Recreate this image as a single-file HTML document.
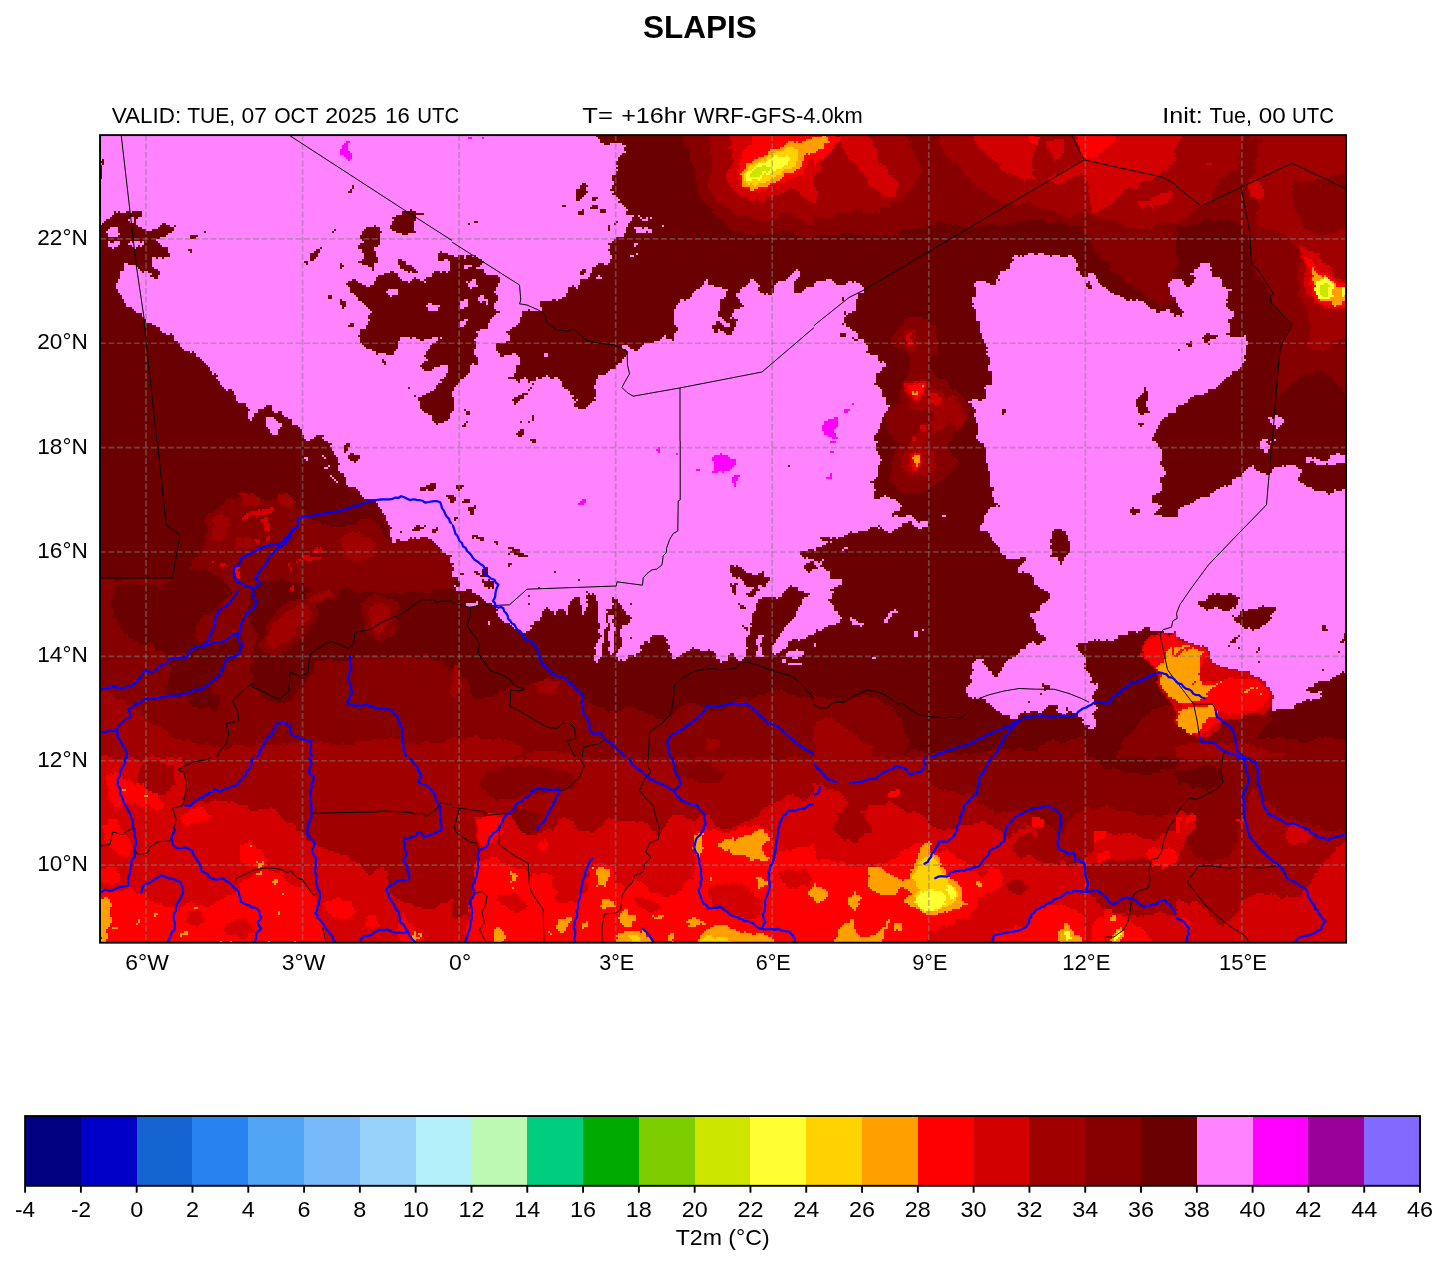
<!DOCTYPE html>
<html><head><meta charset="utf-8"><title>SLAPIS</title>
<style>
html,body{margin:0;padding:0;background:#fff;}
body{width:1448px;height:1264px;overflow:hidden;font-family:"Liberation Sans",sans-serif;}
svg{display:block;}
text{font-family:"Liberation Sans",sans-serif;fill:#000;}
.r{fill:none;stroke:#0000ff;stroke-width:2.2;stroke-linejoin:round;stroke-linecap:round;}
.b{fill:none;stroke:#000;stroke-width:1.0;stroke-linejoin:round;}
.g{stroke:#808080;stroke-opacity:0.5;stroke-width:1.7;stroke-dasharray:5.9 2.6;fill:none;}
</style></head><body>
<svg width="1448" height="1264" viewBox="0 0 1448 1264">
<rect width="1448" height="1264" fill="#fff"/>
<defs>
<clipPath id="cm"><rect x="100" y="135" width="1246.1" height="807.8"/></clipPath>
<clipPath id="c0"><rect x="90" y="125" width="362" height="316"/></clipPath>
<clipPath id="c1"><rect x="452" y="125" width="362" height="316"/></clipPath>
<clipPath id="c2"><rect x="814" y="125" width="362" height="316"/></clipPath>
<clipPath id="c3"><rect x="1176" y="125" width="272" height="316"/></clipPath>
<clipPath id="c4"><rect x="90" y="441" width="362" height="316"/></clipPath>
<clipPath id="c5"><rect x="452" y="441" width="362" height="316"/></clipPath>
<clipPath id="c6"><rect x="814" y="441" width="362" height="316"/></clipPath>
<clipPath id="c7"><rect x="1176" y="441" width="272" height="316"/></clipPath>
<clipPath id="c8"><rect x="90" y="757" width="362" height="316"/></clipPath>
<clipPath id="c9"><rect x="452" y="757" width="362" height="316"/></clipPath>
<clipPath id="c10"><rect x="814" y="757" width="362" height="316"/></clipPath>
<clipPath id="c11"><rect x="1176" y="757" width="272" height="316"/></clipPath>
<filter id="px" filterUnits="userSpaceOnUse" x="80" y="115" width="1290" height="850" color-interpolation-filters="sRGB">
<feTurbulence type="fractalNoise" baseFrequency="0.09" numOctaves="3" seed="7" result="n"/>
<feDisplacementMap in="SourceGraphic" in2="n" scale="9" xChannelSelector="R" yChannelSelector="G" result="d"/>
<feFlood x="80" y="115" width="1" height="1" flood-color="#000"/>
<feComposite width="2" height="2"/>
<feTile result="grid"/>
<feComposite in="d" in2="grid" operator="in" result="s"/>
<feOffset in="s" dx="1" dy="0" result="s1"/>
<feOffset in="s" dx="0" dy="1" result="s2"/>
<feOffset in="s" dx="1" dy="1" result="s3"/>
<feMerge><feMergeNode in="s"/><feMergeNode in="s1"/><feMergeNode in="s2"/><feMergeNode in="s3"/></feMerge>
</filter>
</defs>
<g clip-path="url(#cm)"><g filter="url(#px)" shape-rendering="crispEdges">
<g clip-path="url(#c0)">
<rect x="90" y="125" width="362" height="316" fill="#ff82ff"/>
<polygon fill="#6b0000" points="87.5,223.8 100,223.8 106.2,218 116.2,212 127.5,211.2 133.8,212.5 141.2,209.5 142,217 135.5,221.2 141.2,225.5 148,232 157.5,228.8 165,223 176.2,224.5 175,228.8 165,237 155.5,240 165,247.5 170.5,255 162.5,258.8 153.8,257 150,264 155.5,270.5 158.8,273 158,279 152,276.5 149.5,271.2 141.2,272 136.5,265.5 127.5,262 122,268.8 115,280.5 115.5,287.5 123,296.2 125.5,305.5 135,311.2 143,316 150,322 157,325 163,332.5 175,337.5 182,348.2 192.5,352.5 203,360.5 213,370.5 218,378 223,387.5 230,390 237.5,400 245.5,408 252.5,419 256.2,410 262.5,406.2 268.8,405 272.5,410 280,412.5 287.5,418.8 297.5,425 302.5,432.5 302.5,437.5 315,437.5 322.5,433 323.8,438.8 330,441 330,450 87.5,450"/>
<polygon fill="#ff82ff" points="105,230 115,227.5 120,232.5 112.5,236.2 105,235"/>
<polygon fill="#ff82ff" points="127.5,218.8 135,217.5 136.2,221.2 130,223"/>
<polygon fill="#ff82ff" points="107.5,242.5 117.5,240.5 120,245 111.2,248"/>
<polygon fill="#ff82ff" points="127.5,242.5 140,240.5 143.8,245 132.5,248"/>
<polygon fill="#ff82ff" points="262.5,415 272.5,416.2 280,425 276.2,435 268.8,428.8 265,422.5"/>
<polygon fill="#6b0000" points="100,157.5 101.8,157.5 101.8,177.5 100,177.5"/>
<polygon fill="#6b0000" points="190,235 193.8,232.5 198,234.5 195,238 191.2,238"/>
<polygon fill="#6b0000" points="187.5,250 192.5,248.2 193.8,250.8 188.8,252.5"/>
<polygon fill="#6b0000" points="202,232 204,232 204,234 202,234"/>
<polygon fill="#ff00ff" points="340,148.8 343,143.8 345,140 347.5,140.5 347.5,147.5 350,150 350,160 346.2,160 343.8,156.2 340.5,153.8"/>
<polygon fill="#6b0000" points="392.5,216.2 402.5,212.5 408.8,207.5 415,211.2 423.8,213.8 417.5,217.5 413.8,223.8 412.5,232.5 405,235 393.8,231.2 390,223.8"/>
<polygon fill="#6b0000" points="361.2,232.5 367.5,227 377.5,227 382.5,230 377.5,236.2 380,242.5 375,250 377.5,260 373.8,270 367.5,265 358.8,261.2 362.5,252.5 357.5,245 362.5,238.8"/>
<polygon fill="#6b0000" points="342.5,281.2 355,280 365,287.5 372.5,285 375,275 387.5,272.5 397.5,275 402.5,280 412.5,277.5 422.5,282.5 427.5,275 440,272.5 445,265 437.5,260 436.2,252.5 450,252.5 455,260 455,407.5 445,420 437.5,425 431.2,420 427.5,412.5 420,407.5 417.5,397.5 425,392.5 435,390 440,382.5 445,375 450,365 440,362.5 432.5,370 422.5,368.8 425,360 422.5,352.5 430,345 437.5,337.5 430,335 422.5,340 412.5,337.5 402.5,335 396.2,345 393.8,353.8 377.5,353.8 375,347.5 363.8,348.8 361.2,340 357,332.5 365,327.5 368.8,320 372.5,310 365,305 357.5,297.5 350,292.5 345,286.2"/>
<polygon fill="#6b0000" points="396.2,261.2 402.5,260 412.5,266.2 418.8,270 415,273 405,270 398.8,266.2"/>
<polygon fill="#6b0000" points="308.8,253.8 315,250 322.5,246.2 321.2,251.2 316.2,256.2 313.8,261.2 310,260"/>
<polygon fill="#6b0000" points="336.2,297.5 345,300 343.8,308.8 340,306.2"/>
<polygon fill="#6b0000" points="327.5,292.5 331.2,293 333,297.5 329.5,297"/>
<polygon fill="#6b0000" points="346.2,325 351.2,321.2 353.8,327 347.5,327.5"/>
<polygon fill="#6b0000" points="348.8,190 353.8,186.2 354.5,190 350.5,192.5"/>
<polygon fill="#6b0000" points="329.2,192 331.5,192 331.5,194 329.2,194"/>
<polygon fill="#6b0000" points="331.8,230 335.5,230 335.5,232 331.8,232"/>
<polygon fill="#6b0000" points="340,263.8 343.8,263.8 343.8,268.8 340,268.8"/>
<polygon fill="#6b0000" points="381.2,361.2 386.2,361.2 386.2,365 381.2,365"/>
<polygon fill="#6b0000" points="305,261.2 308.8,260 307.5,263"/>
<polygon fill="#6b0000" points="420,365 423.8,363.8 422.5,368.8"/>
<polygon fill="#6b0000" points="411.2,396.2 415,394.5 414,398.8"/>
<polygon fill="#6b0000" points="406.2,386.2 408.8,386.2 408.8,388.2 406.2,388.2"/>
<polygon fill="#6b0000" points="411.2,380 413,380 413,382 411.2,382"/>
<polygon fill="#ff82ff" points="425,305 432.5,301.2 440,303.8 435,311.2 427.5,311.2"/>
<polygon fill="#ff82ff" points="385,290 397.5,287.5 400,295 390,297.5"/>
<polygon fill="#ff82ff" points="438.8,261.2 445,257.5 450,265 445,272.5 440,267.5"/>
</g>
<g clip-path="url(#c1)">
<rect x="452" y="125" width="362" height="316" fill="#ff82ff"/>
<polygon fill="#6b0000" points="595.8,122.5 595.8,135 602,142.5 612,142.5 624.5,142.5 624.5,152.5 614.5,155 615.8,170 612,175 615.8,185 608.2,190 615.8,200 624.5,205 624.5,212.5 632,217.5 628.2,225 624.5,232.5 617,237.5 608.2,242.5 607,250 612,257.5 608.2,265 602,260 595.8,265 589.5,270 588.2,277.5 582,280 577,287.5 568.2,287.5 562,297.5 552,300 540.8,302.5 539.5,311.2 532,310 522,311.2 517,320 510.8,327.5 505.8,332.5 509.5,338.8 498.2,342.5 497,350 504.5,355 514.5,352.5 519.5,360 514.5,372.5 508.2,377.5 517,382.5 524.5,377.5 532,380 527,390 519.5,393.8 512,398.8 514.5,402.5 524.5,396.2 529.5,387.5 537,377.5 547,375 557,377.5 562,387.5 572,392.5 577,400 574.5,405 579.5,408.8 588.2,405 594.5,400 594.5,387.5 597,375 607,372.5 614.5,367.5 624.5,357.5 627,351.2 622,345 629.5,347.5 638.2,350 644.5,342.5 652,340 659.5,337.5 664.5,335 674.5,340 674.5,325 673.2,311.2 679.5,302.5 689.5,297.5 694.5,290 702,285 707,278.8 714.5,285 722,287.5 727,290 720.8,300 717,307.5 719.5,315 727,320 729.5,325 725.8,325 717,321.2 712,325 717,335 719.5,330 729.5,335 734.5,327.5 737,320 732,315 734.5,310 742,305 737,295 744.5,285 752,280 757,285 767,292.5 772,295 777,280 787,277.5 797,270 799.5,275 792,285 790.8,291.2 802,292.5 807,287.5 817,285 817,122.5"/>
<polygon fill="#ff82ff" points="599.5,150 607,148.8 608.2,157.5 602,158.8"/>
<polygon fill="#ff82ff" points="598.2,170 607,169.5 605.8,176.2 599.5,177.5"/>
<polygon fill="#ff82ff" points="633.2,242.5 638.2,242.5 638.2,247 633.2,247"/>
<polygon fill="#ff82ff" points="629.5,253.8 634.5,253.8 634.5,256.2 629.5,256.2"/>
<polygon fill="#ff82ff" points="637,216.2 647,217.5 645.8,220 638.2,219.5"/>
<polygon fill="#ff82ff" points="632,226.2 642,227.5 652,230 650.8,233 637,231.2"/>
<polygon fill="#ff82ff" points="652,217.5 655,217.5 655,220 652,220"/>
<polygon fill="#ff82ff" points="660,223 663.2,223 663.2,225.8 660,225.8"/>
<polygon fill="#ff82ff" points="595.8,275 600.8,275 600.8,277.5 595.8,277.5"/>
<polygon fill="#ff82ff" points="753.2,303 757,303 757,308.8 753.2,308.8"/>
<polygon fill="#ff82ff" points="765.8,297.5 769.5,297.5 769.5,300 765.8,300"/>
<polygon fill="#ff82ff" points="543.2,352.5 546.5,352.5 546.5,355.5 543.2,355.5"/>
<polygon fill="#6b0000" points="449.5,255 459.5,257.5 467,255 474.5,256.2 482,261.2 477,267.5 484.5,272.5 492,275 499.5,275 498.2,282.5 492,290 495.8,297.5 492,305 499.5,312.5 489.5,320 484.5,330 475.8,332.5 474.5,342.5 470.8,350 475.8,355 480.8,360 473.2,363.8 467,371.2 462,377.5 457,386.2 449.5,387.5"/>
<polygon fill="#ff82ff" points="465.8,281.2 475.8,278.8 477,285 468.2,287"/>
<polygon fill="#ff82ff" points="457,300 467,297.5 469.5,305 459.5,307.5"/>
<polygon fill="#ff82ff" points="477,297.5 485.8,296.2 487,302.5 479.5,303.8"/>
<polygon fill="#ff82ff" points="457,320 467,317.5 464.5,325 458.2,326.2"/>
<polygon fill="#ff82ff" points="462,265 470.8,265 470.8,268.8 462,268.8"/>
<polygon fill="#6b0000" points="464.5,410 468.5,410 468.5,414 464.5,414"/>
<polygon fill="#6b0000" points="464,421.2 466.5,421.2 466.5,425 464,425"/>
<polygon fill="#6b0000" points="517,428.8 523.2,428.8 523.2,435 517,435"/>
<polygon fill="#6b0000" points="529.5,416.2 533.2,416.2 533.2,421.2 529.5,421.2"/>
<polygon fill="#6b0000" points="519.5,420 522,420 522,422.5 519.5,422.5"/>
<polygon fill="#6b0000" points="529.5,437.5 533.5,437.5 533.5,442.5 529.5,442.5"/>
<polygon fill="#6b0000" points="525.8,421.2 527.8,421.2 527.8,423.2 525.8,423.2"/>
<polygon fill="#6b0000" points="467,223.2 469,223.2 469,225.2 467,225.2"/>
<polygon fill="#6b0000" points="473.5,221.5 475.5,221.5 475.5,223.5 473.5,223.5"/>
<polygon fill="#6b0000" points="574.5,191.2 582,183.8 588.2,182.5 587,192.5 580.8,200 574.5,200"/>
<polygon fill="#6b0000" points="563.2,203 567,203 567,205 563.2,205"/>
<polygon fill="#6b0000" points="575.8,211.2 580.8,209.5 582,213 577,215"/>
<polygon fill="#6b0000" points="589.5,205 594.5,205 594.5,210 589.5,210"/>
<polygon fill="#6b0000" points="599.5,208.8 604.5,208.8 604.5,213.8 599.5,213.8"/>
<polygon fill="#6b0000" points="592,196.2 595.8,196.2 595.8,199.5 592,199.5"/>
<polygon fill="#6b0000" points="607,226.2 610,226.2 610,229.5 607,229.5"/>
<polygon fill="#6b0000" points="614.5,221.2 617,221.2 617,225 614.5,225"/>
<polygon fill="#6b0000" points="579.5,268.8 583.2,268.8 583.2,275 579.5,275"/>
<polygon fill="#6b0000" points="498.2,348.8 505.8,350 508.2,355 500.8,356.2 496.5,353"/>
<polygon fill="#ff00ff" points="467,135.5 471,135.5 471,137.5 467,137.5"/>
<polygon fill="#ff00ff" points="479.5,138 482,138 482,140 479.5,140"/>
<polygon fill="#870000" points="680.8,122.5 683.2,140 692,157.5 695.8,175 698.2,195 710.8,207.5 722,220 734.5,230 752,233 772,232.5 789.5,230 797,235 817,237.5 817,122.5"/>
<polygon fill="#a00000" points="704.5,122.5 710.8,145 712,170 707,185 714.5,200 727,207.5 739.5,215 757,220 774.5,217.5 787,211.2 797,217.5 807,225 817,225 817,122.5"/>
<polygon fill="#d20000" points="727,122.5 729.5,140 732,162.5 727,177.5 734.5,192.5 749.5,200 764.5,198.8 784.5,188.8 797,190 809.5,202.5 817,205 817,122.5"/>
<polygon fill="#ff0000" points="752,135 744.5,150 737,167.5 737,178.8 743.2,187.5 757,192.5 772,186.2 787,178.8 802,175 807,160 817,152.5 817,122.5 754.5,122.5"/>
<polygon fill="#ffa000" points="739,172.5 747,163.8 758.2,157.5 777,147.5 789.5,140.5 802,142.5 809.5,140 817,136.2 817,151.2 804.5,156.2 799.5,168.8 784.5,176.2 768.2,184.5 752,189.5 742,183.8"/>
<polygon fill="#ffd200" points="742,173.8 749.5,166.2 760.8,160 777,151.2 787,146.2 797,148.8 798.2,157.5 794.5,165 782,172.5 767,179.5 754.5,184.5 745,180"/>
<polygon fill="#ffff32" points="745,173.8 752,167.5 763.2,162 777,155 788.2,153.8 787,162.5 779.5,168.8 769.5,173.8 755.8,180.5 747.5,178"/>
<polygon fill="#cde600" points="748.2,173.8 755.8,169.5 764.5,166.2 773.2,166.2 768.2,171.2 758.2,176.2 750.8,177.5"/>
</g>
<g clip-path="url(#c2)">
<rect x="814" y="125" width="362" height="316" fill="#6b0000"/>
<polygon fill="#870000" points="811.5,122.5 811.5,240 817.2,235.8 833.8,233.5 850.5,231.5 867,233.5 883.5,235.8 896,233.5 908.5,229.5 925,227.2 937.5,221.2 949.8,223.2 966.5,227.2 983,225.2 999.5,223.2 1016.2,221.2 1032.8,219 1049.2,221.2 1066,223.2 1080,227.2 1091.5,245 1099,255 1106.5,265 1114,270 1121.5,277.5 1129,285 1139,290 1149,297.5 1159,305 1169,300 1179,300 1179,122.5"/>
<polygon fill="#a00000" points="811.5,122.5 811.5,220 813.2,212.8 829.8,217 842.2,212.8 854.5,208.8 871.2,212.8 883.5,208.8 896,200.5 908.5,192.2 916.8,179.8 921,163.2 912.5,150.8 908.5,138.2 904.2,122.5"/>
<polygon fill="#a00000" points="937.5,122.5 941.5,146.5 949.8,159 962.2,171.5 974.8,183.8 987.2,192.2 999.5,200.5 1012,204.5 1028.5,200.5 1045.2,208.8 1057.5,212.8 1070,217 1080,212.8 1094,212.5 1109,220 1124,225 1139,230 1154,225 1179,220 1179,122.5"/>
<polygon fill="#d20000" points="811.5,122.5 833.8,122.5 833.8,136.2 829.8,150.8 817.2,171.5 804.8,183.8 811.5,190"/>
<polygon fill="#d20000" points="838,122.5 862.8,122.5 875.2,150.8 883.5,167.2 896,183.8 896,198.2 883.5,196.2 871.2,181.8 858.8,167.2 848.2,154.8 840,146.5"/>
<polygon fill="#ff0000" points="811.5,132.5 834,135 841.5,140 831.5,147.5 824,157.5 811.5,162.5"/>
<polygon fill="#ffa000" points="811.5,135 826.5,135.5 829,142.5 821.5,148.8 811.5,150"/>
<polygon fill="#d20000" points="966.5,122.5 979,146.5 991.2,159 1008,171.5 1024.5,179.8 1041,175.5 1055.5,183.8 1070,179.8 1080,171.5 1089,190 1091.5,211.2 1104.2,209.2 1117,194.2 1130,187.8 1142.8,181.5 1155.5,175 1168.5,166.5 1181.2,153.5 1181.2,122.5"/>
<polygon fill="#a00000" points="1036.5,132.5 1074,132.5 1082.8,157.5 1064,170 1049,178.8 1036.5,183.8 1031.5,162.5"/>
<polygon fill="#d20000" points="1046.5,142.5 1061.5,138.8 1066.5,152.5 1054,160"/>
<polygon fill="#d20000" points="1136.5,205 1149,198.8 1164,192.5 1172.8,193.8 1169,200 1154,206.2 1141.5,208.8"/>
<polygon fill="#ff0000" points="1071.5,122.5 1076.5,140 1084,157.5 1091.5,160 1101.5,152.5 1114,140 1121.5,122.5"/>
<polygon fill="#ff0000" points="1026.5,135 1039,137.5 1036.5,143.8 1027.8,142.5"/>
<polygon fill="#ff82ff" points="811.5,282.5 824,281.2 829,278.8 834,285 841.5,285 846.5,278.8 854,281.2 864,290 856.5,297.5 854,310 846.5,315 841.5,322.5 849,327.5 856.5,332.5 861.5,340 867.8,345 866.5,351.2 876.5,355 879,361.2 885.2,366.2 876.5,372.5 875.2,380 872.8,386.2 881.5,387.5 885.2,400 889,405 884,415 880.2,425 875.2,435 874,442.5 811.5,442.5"/>
<polygon fill="#6b0000" points="840.2,297.5 843.5,297.5 843.5,301.2 840.2,301.2"/>
<polygon fill="#6b0000" points="843.5,310 846.5,310 846.5,313.8 843.5,313.8"/>
<polygon fill="#6b0000" points="840.2,332.5 845.2,332.5 845.2,335.5 840.2,335.5"/>
<polygon fill="#6b0000" points="851.5,337.5 857.8,337.5 857.8,340.5 851.5,340.5"/>
<polygon fill="#ff82ff" points="974,285 981.5,280 989,285 996.5,285 1000.2,273.8 1006.5,267.5 1011.5,257.5 1026.5,253.8 1039,253 1054,255 1069,256.2 1075.2,260 1076.5,268.8 1085.2,276.2 1091.5,273.8 1096.5,278.8 1101.5,287.5 1110.2,292.5 1121.5,296.2 1134,300 1144,301.2 1146.5,307.5 1156.5,311.2 1169,308.8 1174,317.5 1179,317.5 1179,442.5 977.8,442.5 976.5,425 974,412.5 970.2,402.5 976.5,400 984,395 986.5,387.5 992.8,382.5 994,371.2 987.8,368.8 987.8,355 985.2,345 980.2,332.5 976.5,315 972.8,303.8"/>
<polygon fill="#ff82ff" points="1167.8,280 1174,278 1179,278.8 1179,297.5 1174,296.2 1169,290"/>
<polygon fill="#6b0000" points="1136.5,397.5 1144,386.2 1147.8,388.8 1146.5,402.5 1146.5,416.2 1141.5,415 1137.8,407.5"/>
<polygon fill="#6b0000" points="1151.5,442.5 1155.2,430 1160.2,420 1169,412.5 1179,410 1179,442.5"/>
<polygon fill="#6b0000" points="1001.5,407.5 1006.5,407.5 1006.5,412.5 1001.5,412.5"/>
<polygon fill="#6b0000" points="1086.5,281.2 1090.2,281.2 1090.2,287.5 1086.5,287.5"/>
<polygon fill="#6b0000" points="1140.2,421.2 1142.8,421.2 1142.8,423.8 1140.2,423.8"/>
<polygon fill="#ff00ff" points="821.5,425 829,420 839,415 839,425 834,432.5 837.8,437.5 829,437.5 824,431.2"/>
<polygon fill="#ff00ff" points="844,408.8 849,408.8 849,412.5 844,412.5"/>
<polygon fill="#ff00ff" points="851.5,401.2 854,401.2 854,403.8 851.5,403.8"/>
<polygon fill="#ff00ff" points="844,396.2 846,396.2 846,398.2 844,398.2"/>
</g>
<g clip-path="url(#c3)">
<rect x="1086" y="125" width="362" height="316" fill="#6b0000"/>
<polygon fill="#870000" points="1083.5,122.5 1083.5,242.5 1101,245 1121,250 1143.5,250 1148.5,270 1136,285 1111,292.5 1083.5,275 1083.5,305 1146,305 1161,285 1168.5,265 1161,245 1151,235 1166,230 1186,225 1206,220 1226,217.5 1241,225 1248.5,242.5 1251,265 1261,280 1271,295 1276,310 1291,325 1281,342.5 1278.5,365 1276,400 1286,387.5 1301,375 1321,370 1336,380 1348.5,400 1348.5,122.5"/>
<polygon fill="#a00000" points="1083.5,122.5 1083.5,210 1101,215 1118.5,225 1136,230 1156,230 1173.5,225 1186,215 1198.5,207.5 1211,200 1216,180 1236,170 1241,150 1246,122.5"/>
<polygon fill="#a00000" points="1246,122.5 1251,155 1248.5,182.5 1258.5,200 1256,225 1276,230 1291,240 1301,255 1296,275 1301,300 1311,325 1306,345 1321,350 1336,340 1348.5,335 1348.5,122.5"/>
<polygon fill="#870000" points="1291,180 1311,182.5 1331,175 1348.5,170 1348.5,225 1326,235 1306,230 1293.5,207.5"/>
<polygon fill="#870000" points="1246,135 1258.5,137.5 1256,165 1248.5,182.5"/>
<polygon fill="#d20000" points="1083.5,122.5 1083.5,205 1098.5,207.5 1111,200 1118.5,187.5 1136,182.5 1148.5,175 1161,162.5 1173.5,150 1186,122.5"/>
<polygon fill="#d20000" points="1136,202.5 1151,195 1168.5,187.5 1173.5,192.5 1158.5,202.5 1143.5,207.5"/>
<polygon fill="#ff0000" points="1083.5,122.5 1083.5,160 1093.5,155 1101,145 1108.5,122.5"/>
<polygon fill="#d20000" points="1248.5,182.5 1258.5,177.5 1263.5,190 1261,200 1253.5,195"/>
<polygon fill="#d20000" points="1203.5,162.5 1208.5,162.5 1208.5,166.2 1203.5,166.2"/>
<polygon fill="#ff82ff" points="1083.5,275 1093.5,274.5 1098.5,280 1103.5,287.5 1111,292.5 1121,296.2 1133.5,300 1143.5,301.2 1144.8,307.5 1156,311.2 1166,308.8 1171,300 1172.2,290 1167.2,285 1172.2,278.8 1181,278.8 1183.5,287.5 1191,285 1196,278.8 1189.8,273.8 1196,267.5 1203.5,261.2 1209.8,263.8 1213.5,275 1221,280 1226,290 1232.2,287.5 1224.8,297.5 1227.2,307.5 1233.5,310 1228.5,320 1231,327.5 1224.8,336.2 1236,337.5 1246,336.2 1247.2,345 1243.5,362.5 1236,370 1227.2,377.5 1216,386.2 1203.5,392.5 1191,397.5 1178.5,405 1168.5,411.2 1161,420 1154.8,430 1151.5,442.5 1083.5,442.5"/>
<polygon fill="#6b0000" points="1167.2,308.8 1176,306.2 1186,310 1183.5,315 1173.5,317"/>
<polygon fill="#6b0000" points="1199.8,337.5 1211,333.8 1218.5,332.5 1218.5,337.5 1211,340 1208.5,343.8 1203.5,340"/>
<polygon fill="#6b0000" points="1186,345 1192.2,338.8 1191,345 1187.2,347.5"/>
<polygon fill="#6b0000" points="1178,347.5 1180,347.5 1180,350 1178,350"/>
<polygon fill="#6b0000" points="1134.8,402.5 1142.2,387.5 1147.2,388.8 1146,402.5 1146,416.2 1142.2,416.2 1137.2,408.8"/>
<polygon fill="#6b0000" points="1086,282.5 1089.8,282.5 1089.8,287.5 1086,287.5"/>
<polygon fill="#6b0000" points="1140.5,421.2 1142.5,421.2 1142.5,423.2 1140.5,423.2"/>
<polygon fill="#ff82ff" points="1267.2,416.2 1273.5,417.5 1278.5,412.5 1282.2,421.2 1278.5,428.8 1272.2,425"/>
<polygon fill="#ff82ff" points="1261,438.8 1272.2,438.8 1272.2,442.5 1261,442.5"/>
<polygon fill="#d20000" points="1298.5,245 1306,247.5 1316,255 1326,265 1336,275 1348.5,280 1348.5,310 1336,307.5 1323.5,307.5 1311,300 1306,285 1303.5,265"/>
<polygon fill="#ff0000" points="1303.5,255 1313.5,260 1321,272.5 1333.5,280 1348.5,282.5 1348.5,305 1331,305 1318.5,302.5 1311,292.5 1309.8,275"/>
<polygon fill="#ffa000" points="1312.2,263.8 1316,270 1323.5,277.5 1333.5,285 1348.5,285 1348.5,300 1333.5,303.8 1321,300 1313.5,290 1312.2,275"/>
<polygon fill="#ffff32" points="1314.8,280 1323.5,277.5 1332.2,285 1333.5,295 1326,300 1318.5,297.5 1313.5,290"/>
<polygon fill="#ffff32" points="1340.5,286.2 1348.5,285 1348.5,297.5 1341.5,296.2"/>
<polygon fill="#cde600" points="1318.5,285 1324.8,283.8 1328.5,290 1326,296.2 1321,293.8"/>
</g>
<g clip-path="url(#c4)">
<rect x="90" y="441" width="362" height="316" fill="#870000"/>
<polygon fill="#6b0000" points="97.5,438.5 330,438.5 340,468.5 350,488.5 367.5,499.8 382.5,508.5 390,541 370,516 355,523.5 340,528.5 322.5,523.5 305,516 292.5,503.5 285,491 265,501 245,491 220,506 203,520 206.5,530 203,543.2 193,561.5 183,576.5 173,579 97.5,579"/>
<polygon fill="#6b0000" points="116.5,583 163,584.8 186.2,569.8 206.2,568.2 219.5,574.8 226.2,586.5 233,593 223,599.8 216.2,609.8 203,616.2 196.2,626.2 194.8,636.2 203,643 193,649.5 183,651.2 173,656.2 163,653 149.8,643 138.2,644.5 126.5,636.2 116.5,623 110,603"/>
<polygon fill="#6b0000" points="173,658 189.8,651.2 203,648 223,643 239.5,636.2 242.8,646.2 238,658 224.5,662.8 223,672.8 216.2,677.8 208,686 220,701 216.2,708.5 200,709.8 190,703.5 186.5,694.5 174.8,696 163,696 166.5,686 173,676.2 169.8,666.2"/>
<polygon fill="#6b0000" points="249.5,589.8 259.5,583 282.8,578.2 299.2,583 316,589.8 340.5,586.5 355,591 380,591 405,591 427.5,591 445,588.5 455,581 455,673.5 440,661 425,656 365,656 340,658.5 315,661 308,678.5 290,701 265,701 255,686 250,666 257.8,636.2 249.5,619.8"/>
<polygon fill="#870000" points="260,646 270,616 287.5,601 310,596 320,613.5 305,633.5 290,648.5 275,656"/>
<polygon fill="#a00000" points="265,641 275,621 290,608.5 307.5,603.5 312.5,613.5 300,626 287.5,641 275,648.5"/>
<polygon fill="#870000" points="362.5,601 380,593.5 397.5,603.5 395,631 380,643.5 365,631"/>
<polygon fill="#a00000" points="367.5,606 380,601 390,608.5 387.5,626 377.5,633.5 370,623.5"/>
<polygon fill="#870000" points="305,593.5 322.5,588.5 337.5,587.2 336.2,597.2 320,601 308.8,603.5"/>
<polygon fill="#a00000" points="97.5,685 110,691 125,701 140,713.5 160,728.5 180,738.5 200,743.5 224,747 250,744.8 280,743.5 310,741 340,744.8 365,741 390,738.5 415,743.5 440,741 455,738.5 455,758.5 97.5,758.5"/>
<polygon fill="#a00000" points="210,527.2 217.5,524.8 225,528.5 226.2,536 220,539 212.5,537.2"/>
<polygon fill="#a00000" points="232.5,538.5 242.5,534.8 252.5,537.2 255,544.8 245,549 235,547.2"/>
<polygon fill="#a00000" points="240,494.8 252.5,492.2 260,498.5 255,505.5 243.8,506.5"/>
<polygon fill="#a00000" points="277.5,494.8 287.5,492.2 292.5,501 287.5,508.5 278.8,506"/>
<polygon fill="#a00000" points="307.5,597.2 322.5,592.2 335,590.5 333.8,594.8 320,598.5 310,601"/>
<polygon fill="#a00000" points="340,536 360,531 375,541 372.5,556 355,563.5 342.5,553.5"/>
<polygon fill="#a00000" points="210,521 220,513.5 230,516 230,526 220,531"/>
<polygon fill="#d20000" points="235,517.2 250,512.2 265,507.2 275,505.5 273.8,511 260,514.8 245,518.5"/>
<polygon fill="#d20000" points="262.5,518.5 267.5,518.5 267.5,531 262.5,531"/>
<polygon fill="#d20000" points="256.2,536 261.2,536 261.2,542.2 256.2,542.2"/>
<polygon fill="#d20000" points="266.2,534.8 270,534.8 270,539.8 266.2,539.8"/>
<polygon fill="#ff0000" points="235,568.5 240,564.8 242.5,573.5 240,581 236.2,577.2"/>
<polygon fill="#d20000" points="210,563.5 225,563.5 225,566 210,566"/>
<polygon fill="#d20000" points="293.8,558.5 307.5,556.5 321.2,555.5 321.2,559 307.5,561 295,561.5"/>
<polygon fill="#d20000" points="315,546 322.5,546 322.5,552.2 315,552.2"/>
<polygon fill="#d20000" points="287.5,563.5 291.2,563.5 291.2,569.8 287.5,569.8"/>
<polygon fill="#d20000" points="290,586 292.5,586 292.5,589.8 290,589.8"/>
<polygon fill="#ff82ff" points="328.8,438.5 332.5,451 337.5,458.5 340,468.5 345,478.5 350,488.5 355,486 361.2,494.8 367.5,499.8 372.5,501 382.5,508.5 386.2,518.5 388.8,528.5 391.2,539.8 393.8,543.5 400,537.2 405,541 412.5,538.5 422.5,537.2 432.5,539.8 440,546 445,553.5 455,556 455,438.5"/>
<polygon fill="#6b0000" points="342.5,443.5 348.8,443.5 348.8,452.2 342.5,452.2"/>
<polygon fill="#6b0000" points="350,453.5 358.8,453.5 358.8,459.8 350,459.8"/>
<polygon fill="#6b0000" points="418.8,484.8 436.2,484.8 436.2,489.8 418.8,489.8"/>
<polygon fill="#6b0000" points="411.2,524.8 426.2,524.8 426.2,529.8 411.2,529.8"/>
<polygon fill="#6b0000" points="432.5,527.2 438.8,527.2 438.8,532.2 432.5,532.2"/>
<polygon fill="#6b0000" points="399.5,528 402,528 402,531.5 399.5,531.5"/>
<polygon fill="#6b0000" points="447.5,493.5 455,493.5 455,499.8 447.5,499.8"/>
<polygon fill="#ff82ff" points="303.8,458.5 308.8,458.5 308.8,461 303.8,461"/>
<polygon fill="#ff82ff" points="321.2,453.5 326.2,453.5 326.2,457.2 321.2,457.2"/>
<polygon fill="#ff82ff" points="323.8,464.8 327.5,464.8 327.5,467.2 323.8,467.2"/>
<polygon fill="#ff82ff" points="327.5,474.8 330,473.5 337.5,481 335.5,483"/>
<polygon fill="#ff82ff" points="313.8,440.5 316.2,440.5 316.2,443 313.8,443"/>
</g>
<g clip-path="url(#c5)">
<rect x="452" y="441" width="362" height="316" fill="#ff82ff"/>
<polygon fill="#6b0000" points="449.5,581 457,591 467,588.5 477,591 484.5,601 492,604.8 497,613.5 504.5,623.5 514.5,626 520.8,632.2 529.5,627.2 534.5,619.8 542,616 543.2,603.5 548.2,608.5 553.2,614.8 559.5,611 567,612.2 569.5,601 577,597.2 582,601 582,613.5 587,603.5 587,591 593.2,593.5 597,603.5 598.2,616 599.5,633.5 595.8,641 593.2,656 594.5,661 602,656 602,641 604.5,631 605.8,616 607,608.5 612,607.2 612,596 617,601 622,608.5 629.5,616 628.2,624.8 622,623.5 619.5,633.5 622,641 619.5,648.5 614.5,653.5 618.2,661 624.5,658.5 627,653.5 634.5,656 642,648.5 643.2,641 652,636 659.5,634.8 667,638.5 669.5,651 672,661 678.2,658.5 684.5,648.5 692,646 699.5,649.8 707,648.5 712,653.5 717,658.5 720.8,664.8 727,661 727,653.5 734.5,652.2 737,661 744.5,658.5 745.8,641 750.8,628.5 750.8,616 755.8,608.5 759.5,597.2 769.5,594.8 779.5,596 787,586 794.5,584.8 799.5,591 808.2,592.2 802,603.5 797,611 789.5,621 782,631 774.5,641 770.8,652.2 779.5,653.5 787,643.5 797,638.5 807,636 817,631 817,766 449.5,766"/>
<polygon fill="#ff82ff" points="607,616 612,613.5 614.5,631 613.2,651 608.2,653.5 608.2,636"/>
<polygon fill="#ff82ff" points="755.8,636 760.8,633.5 762,653.5 755.8,656"/>
<polygon fill="#ff82ff" points="467,601 477,601 477,604.8 467,604.8"/>
<polygon fill="#ff82ff" points="487,621 490.8,621 490.8,624 487,624"/>
<polygon fill="#6b0000" points="728.2,564.8 733.2,563.5 742,568.5 752,574.8 762,573.5 769.5,578.5 764.5,586 758.2,582.2 754.5,588.5 747,583.5 739.5,578.5 732,576 728.2,572.2"/>
<polygon fill="#6b0000" points="729.5,582.2 735.8,583.5 734.5,596 730.8,591"/>
<polygon fill="#6b0000" points="744.5,593.5 759.5,586 757,591 749.5,598.5"/>
<polygon fill="#6b0000" points="740.8,604.8 745.8,604.8 745.8,608.5 740.8,608.5"/>
<polygon fill="#6b0000" points="742,624.8 747,624.8 747,628.5 742,628.5"/>
<polygon fill="#6b0000" points="800.8,551 807,548.5 817,547.2 817,558.5 807,557.2 802,556"/>
<polygon fill="#6b0000" points="805.8,562.2 817,562.2 817,568.5 805.8,568.5"/>
<polygon fill="#6b0000" points="454.5,484.8 460.8,484.8 460.8,488.5 454.5,488.5"/>
<polygon fill="#6b0000" points="450.8,493.5 454.5,493.5 454.5,499.8 450.8,499.8"/>
<polygon fill="#6b0000" points="463.2,499 469.5,499 469.5,502.2 463.2,502.2"/>
<polygon fill="#6b0000" points="472,534.8 481.5,534.8 481.5,539 472,539"/>
<polygon fill="#6b0000" points="494.5,540.5 498.2,540.5 498.2,544.8 494.5,544.8"/>
<polygon fill="#6b0000" points="505.8,562.2 510.8,562.2 510.8,565.2 505.8,565.2"/>
<polygon fill="#6b0000" points="450.8,561 454.5,561 454.5,566 450.8,566"/>
<polygon fill="#6b0000" points="473.2,571 477,571 477,574.8 473.2,574.8"/>
<polygon fill="#6b0000" points="479.5,566 487,566 487,573.5 479.5,573.5"/>
<polygon fill="#6b0000" points="450.8,576 458.2,576 458.2,583.5 450.8,583.5"/>
<polygon fill="#6b0000" points="529.5,439.8 533.2,439.8 533.2,443 529.5,443"/>
<polygon fill="#6b0000" points="529.5,446.5 532,446.5 532,448.5 529.5,448.5"/>
<polygon fill="#6b0000" points="569.5,561.5 572,561.5 572,564 569.5,564"/>
<polygon fill="#6b0000" points="552,569.8 554.5,569.8 554.5,572.2 552,572.2"/>
<polygon fill="#6b0000" points="577,578 580,578 580,582.2 577,582.2"/>
<polygon fill="#6b0000" points="537.5,586.5 540,586.5 540,590.2 537.5,590.2"/>
<polygon fill="#6b0000" points="527,594.8 529.5,594.8 529.5,597.2 527,597.2"/>
<polygon fill="#6b0000" points="527,603 529.5,603 529.5,605.5 527,605.5"/>
<polygon fill="#6b0000" points="629.5,601 631.5,601 631.5,603 629.5,603"/>
<polygon fill="#6b0000" points="629.5,636.5 631.5,636.5 631.5,638.5 629.5,638.5"/>
<polygon fill="#6b0000" points="788.2,465.2 790.2,465.2 790.2,467.2 788.2,467.2"/>
<polygon fill="#6b0000" points="460.8,572.8 463.2,572.8 463.2,575.2 460.8,575.2"/>
<polygon fill="#6b0000" points="502,573.5 504.5,573.5 504.5,576 502,576"/>
<polygon fill="#6b0000" points="505,553 507.5,553 507.5,555 505,555"/>
<polygon fill="#6b0000" points="453.2,517.2 456.5,517.2 456.5,519.8 453.2,519.8"/>
<polygon fill="#6b0000" points="465.8,508.5 470.8,505.5 475,508 470.8,513.5"/>
<polygon fill="#6b0000" points="508.2,547.2 514.5,548.5 527,557.2 522,558.5 512,553.5"/>
<polygon fill="#6b0000" points="482,577.2 493.2,581 493.2,588.5 487,587.2"/>
<polygon fill="#ff82ff" points="782,658.5 785.8,658.5 785.8,662.2 782,662.2"/>
<polygon fill="#ff82ff" points="787,651 802,651 802,656 787,656"/>
<polygon fill="#ff82ff" points="788.2,661 800.8,661 800.8,664.8 788.2,664.8"/>
<polygon fill="#ff00ff" points="709.5,459.8 717,456 724.5,453.5 733.2,461 733.2,467.2 724.5,469.8 719.5,472.2 712,472.2 714.5,466"/>
<polygon fill="#ff00ff" points="732,476 739.5,474.8 739.5,481 734.5,483.5 733.2,489.8 731.5,484.8"/>
<polygon fill="#ff00ff" points="577,502.2 582,497.2 585.8,501 582,504.8"/>
<polygon fill="#ff00ff" points="657,447.2 660.8,447.2 660.8,450.5 657,450.5"/>
<polygon fill="#ff00ff" points="675.2,451 677,451 677,452.8 675.2,452.8"/>
<polygon fill="#ff00ff" points="697,469.8 700.8,469.8 700.8,471.5 697,471.5"/>
<polygon fill="#ff00ff" points="700.8,465.5 702.5,465.5 702.5,467 700.8,467"/>
<polygon fill="#870000" points="449.5,666 459.5,671 467,681 472,691 477,698.5 492,696 502,688.5 517,686 534.5,683.5 547,678.5 559.5,676 569.5,681 577,691 587,701 597,706 607,711 622,708.5 632,706 642,711 652,716 662,721 672,716 679.5,706 692,701 702,706 712,711 722,708.5 732,703.5 742,696 752,698.5 762,693.5 772,688.5 784.5,691 797,693.5 807,696 817,701 817,766 449.5,766"/>
<polygon fill="#a00000" points="449.5,736 462,738.5 477,736 492,738.5 507,741 522,743.5 519.5,753.5 502,758.5 449.5,758.5"/>
<polygon fill="#a00000" points="527,752.2 547,749.8 572,753.5 572,758.5 527,758.5"/>
<polygon fill="#a00000" points="534.5,682.2 547,679.8 559.5,682.2 557,691 542,692.2"/>
<polygon fill="#a00000" points="707,738.5 717,738.5 717,748.5 707,748.5"/>
<polygon fill="#a00000" points="449.5,661 457,666 462,681 457,696 449.5,698.5"/>
</g>
<g clip-path="url(#c6)">
<rect x="814" y="441" width="362" height="316" fill="#6b0000"/>
<polygon fill="#ff82ff" points="811.5,438.5 875.2,438.5 877.8,451 880.2,461 877.8,476 871.5,478.5 872,494.8 879,497.2 894,497.2 901.5,503.5 894,511 889,516 899,518.5 909,517.2 919,519.8 930.2,520.5 927.8,527.2 916.5,527.2 910.2,521 900.2,524.8 889,532.2 884,527.2 871.5,528 859,531 844,534.8 829,537.2 816.5,535.5 819,539.8 831.5,541 824,544.8 814,548.5 811.5,548.5"/>
<polygon fill="#ff82ff" points="811.5,561 824,558 819,564.8 826.5,572.2 831.5,571 829,579.8 839,578.5 840.2,583.5 831.5,588.5 832.8,597.2 827.8,602.2 834,606 835.2,616 841.5,617.2 834,623.5 824,626 811.5,628"/>
<polygon fill="#ff82ff" points="940.2,513.5 945.2,513.5 945.2,516 940.2,516"/>
<polygon fill="#ff82ff" points="846.5,617.2 854,618.5 862.8,622.2 860.2,626 851.5,623.5"/>
<polygon fill="#ff82ff" points="881.5,621 887.8,613.5 894,609.8 899,612.2 891.5,616 885.2,622.2"/>
<polygon fill="#ff82ff" points="912.8,629.8 917.8,629.8 917.8,636 912.8,636"/>
<polygon fill="#ff82ff" points="921.5,628 924,628 924,630 921.5,630"/>
<polygon fill="#ff82ff" points="815.2,642.2 817,642.2 817,644 815.2,644"/>
<polygon fill="#ff82ff" points="871,657.2 873.5,657.2 873.5,659.8 871,659.8"/>
<polygon fill="#ff82ff" points="842,546.5 846.5,546.5 846.5,549 842,549"/>
<polygon fill="#ff82ff" points="986.5,438.5 985.2,456 987.8,471 991.5,486 994,502.2 999,506 989,507.2 984,513.5 980.2,527.2 989,533.5 994,543.5 1001.5,551 1006.5,558.5 1014,558.5 1029,556 1021.5,563.5 1016.5,568.5 1026.5,573.5 1034,576 1035.2,583.5 1044,591 1050.2,596 1044,603.5 1036.5,611 1030.2,616 1036.5,623.5 1039,633.5 1045.2,636 1039,642.2 1029,641 1024,648.5 1014,656 1007.8,661 1000.2,668.5 997.8,676 990.2,673.5 984,666 985.2,661 979,658.5 972.8,662.2 970.2,669.8 971.5,681 965.2,687.2 969,693.5 979,697.2 986.5,703.5 994,709.8 1001.5,712.2 1009,713.5 1011.5,719.8 1021.5,713.5 1031.5,709.8 1044,709.8 1049,704.8 1055.2,703.5 1057.8,712.2 1064,714.8 1069,709.8 1076.5,712.2 1084,718.5 1089,729.8 1095.2,726 1092.8,716 1095.2,706 1092.8,696 1097.8,688.5 1094,681 1089,673.5 1085.2,666 1084,656 1076.5,649.8 1076.5,643.5 1085.2,639.8 1094,638.5 1109,641 1121.5,634.8 1134,629.8 1146.5,628.5 1159,631 1179,633.5 1179,514.8 1164,516 1154,513.5 1161.5,506 1151.5,503.5 1154,494.8 1162.8,484.8 1155.2,479.8 1162.8,478.5 1164,471 1159,463.5 1161.5,451 1154,438.5"/>
<polygon fill="#6b0000" points="1050.2,528.5 1065.2,528.5 1066.5,537.2 1069,541 1069,551 1064,557.2 1060.2,566 1057.8,559.8 1050.2,553.5 1049,543.5"/>
<polygon fill="#6b0000" points="1127.8,511 1134,508 1140.2,507.2 1137.8,512.2 1130.2,515.2"/>
<polygon fill="#6b0000" points="1067.8,638.5 1070.2,638.5 1070.2,641 1067.8,641"/>
<polygon fill="#6b0000" points="1041.5,684.8 1049,684.8 1049,689.8 1041.5,689.8"/>
<polygon fill="#6b0000" points="1036.5,691 1040.2,691 1040.2,694 1036.5,694"/>
<polygon fill="#6b0000" points="1026.5,699.8 1029.5,699.8 1029.5,702.2 1026.5,702.2"/>
<polygon fill="#6b0000" points="1064,706 1069,706 1069,711 1064,711"/>
<polygon fill="#ff00ff" points="829,441 832.8,441 832.8,443.5 829,443.5"/>
<polygon fill="#ff00ff" points="830.2,448.5 833.5,448.5 833.5,450.5 830.2,450.5"/>
<polygon fill="#ff00ff" points="827.8,474.8 831.5,474.8 831.5,478 827.8,478"/>
<polygon fill="#870000" points="811.5,693.5 824,696 839,701 854,698.5 864,693.5 879,698.5 891.5,706 899,716 904,728.5 909,741 901.5,758.5 811.5,758.5"/>
<polygon fill="#a00000" points="811.5,721 824,716 839,723.5 851.5,731 864,741 874,751 871.5,758.5 811.5,758.5"/>
<polygon fill="#870000" points="901.5,758.5 909,749.8 939,752.2 964,753.5 989,750.5 1014,749.8 1034,748.5 1039,746 1051.5,741 1064,743.5 1076.5,736 1084,741 1089,758.5"/>
<polygon fill="#870000" points="1114,758.5 1121.5,741 1134,728.5 1146.5,716 1159,706 1179,703.5 1179,758.5"/>
</g>
<g clip-path="url(#c7)">
<rect x="1086" y="441" width="362" height="316" fill="#ff82ff"/>
<polygon fill="#6b0000" points="1153.5,438.5 1158.5,451 1161,458.5 1157.2,466 1163.5,473.5 1168.5,478.5 1159.8,486 1154.8,491 1152.2,501 1156,508.5 1152.2,514.8 1161,512.2 1171,516 1178.5,508.5 1186,503.5 1198.5,498.5 1211,491 1221,486 1231,481 1238.5,474.8 1246,468.5 1253.5,466 1258.5,471 1266,474.8 1273.5,468.5 1283.5,464.8 1293.5,463.5 1301,469.8 1298,478.5 1303.5,484.8 1316,488.5 1328.5,493.5 1336,489.8 1348.5,488.5 1348.5,438.5"/>
<polygon fill="#ff82ff" points="1304.8,463.5 1306,458 1318.5,459 1327.2,454.8 1336,453.5 1348.5,456 1348.5,463 1336,463.5 1321,463"/>
<polygon fill="#ff82ff" points="1259.8,438.5 1267.2,438.5 1266.5,451 1262.2,452.2"/>
<polygon fill="#6b0000" points="1128.5,509.8 1139.8,507.2 1136,512.2 1129.8,514.8"/>
<polygon fill="#6b0000" points="1197.2,602.2 1206,596 1218.5,593 1231,593.5 1238.5,598.5 1236,606 1228.5,609.8 1216,608.5 1203.5,607.2"/>
<polygon fill="#6b0000" points="1231,616 1241,611 1251,608.5 1263.5,603.5 1274.8,604.8 1276,608.5 1271,616 1266,623.5 1258.5,628.5 1251,631 1246,627.2 1239.8,628.5 1237.2,621"/>
<polygon fill="#6b0000" points="1318.5,626 1324.8,624.8 1326,629.8 1321,632.2"/>
<polygon fill="#6b0000" points="1338.5,641 1344.8,632.2 1348.5,632.2 1348.5,641 1341,642.2"/>
<polygon fill="#6b0000" points="1228.5,641 1236,637.2 1241,634.8 1236,641 1229.8,643"/>
<polygon fill="#6b0000" points="1234.8,645.5 1241,645.5 1241,647.2 1234.8,647.2"/>
<polygon fill="#6b0000" points="1255.5,647.2 1257.5,647.2 1257.5,651 1255.5,651"/>
<polygon fill="#6b0000" points="1259.8,659 1261.5,659 1261.5,661 1259.8,661"/>
<polygon fill="#6b0000" points="1226,646.5 1228,646.5 1228,649 1226,649"/>
<polygon fill="#6b0000" points="1339,648.5 1341,648.5 1341,650.5 1339,650.5"/>
<polygon fill="#6b0000" points="1322.2,670.5 1324,670.5 1324,672.5 1322.2,672.5"/>
<polygon fill="#6b0000" points="1083.5,638.5 1093.5,639.8 1096,638.5 1108.5,641 1123.5,633.5 1136,629 1151,629.8 1161,631 1171,632.2 1186,638.5 1196,646 1203.5,647.2 1207.2,656 1211,663.5 1221,667.2 1236,669.8 1248.5,676 1261,678.5 1268.5,684.8 1271,691 1271,709.8 1283.5,708.5 1296,706 1296,702.2 1306,701 1321,697.2 1319.8,689.8 1313.5,692.2 1307.2,688.5 1313.5,683.5 1326,679.8 1336,676 1348.5,672.2 1348.5,766 1083.5,766"/>
<polygon fill="#ff82ff" points="1083.5,666 1088.5,667.2 1089.8,673.5 1096,681 1098.5,688.5 1093.5,696 1089.8,702.2 1092.2,713.5 1096,723.5 1094.8,731 1083.5,732.2"/>
<polygon fill="#870000" points="1148.5,758.5 1146,736 1153.5,716 1153.5,696 1158.5,681 1148.5,666 1138.5,653.5 1141,641 1151,633.5 1171,632.2 1186,638.5 1196,646 1203.5,647.2 1207.2,656 1211,663.5 1221,667.2 1236,669.8 1248.5,676 1261,678.5 1268.5,684.8 1271,691 1271,709.8 1269.8,721 1261,728.5 1256,741 1276,736 1301,741 1326,736 1348.5,741 1348.5,758.5"/>
<polygon fill="#a00000" points="1171,758.5 1176,746 1191,741 1216,743.5 1236,741 1256,746 1276,751 1293.5,758.5"/>
</g>
<g clip-path="url(#c8)">
<rect x="90" y="757" width="362" height="316" fill="#a00000"/>
<polygon fill="#d20000" points="97.5,754.5 182.5,754.5 177.5,769.5 186.2,772 186.2,792 182.5,805.8 195,802 207.5,802 225,799.5 242.5,804.5 255,809.5 270,807 280,814.5 290,824.5 300,832 310,842 322.5,847 337.5,852 350,857 360,864.5 370,874.5 377.5,867 385,869.5 387.5,887 400,899.5 415,907 430,907 440,902 455,899.5 455,947 97.5,947"/>
<polygon fill="#a00000" points="137.5,762 155,759.5 172.5,764.5 175,782 165,794.5 147.5,797 137.5,784.5"/>
<polygon fill="#ff0000" points="97.5,889.5 115,892 127.5,887 140,892 155,902 172.5,907 190,902 205,904.5 220,899.5 235,892 240,882 250,874.5 265,869.5 280,874.5 290,882 305,887 315,897 317.5,912 322.5,927 327.5,947 97.5,947"/>
<polygon fill="#d20000" points="225,922 245,917 255,932 240,937 225,932"/>
<polygon fill="#d20000" points="185,912 200,909.5 207.5,919.5 195,927 185,922"/>
<polygon fill="#ff0000" points="105,777 115,772 127.5,779.5 140,784.5 155,794.5 162.5,804.5 155,809.5 140,807 127.5,802 115,807 107.5,797"/>
<polygon fill="#ff0000" points="102.5,822 115,817 125,832 132.5,847 127.5,857 115,852 105,842"/>
<polygon fill="#ff0000" points="100,867 112.5,864.5 120,874.5 112.5,884.5 100,882"/>
<polygon fill="#ff0000" points="177.5,817 190,809.5 202.5,807 210,814.5 200,822 185,825.8"/>
<polygon fill="#ff0000" points="240,844.5 250,842 260,849.5 265,859.5 262.5,867 250,867 240,859.5"/>
<polygon fill="#ff0000" points="322.5,902 335,897 350,902 355,912 345,919.5 330,917"/>
<polygon fill="#ff0000" points="365,917 375,914.5 377.5,924.5 367.5,927"/>
<polygon fill="#ff0000" points="402.5,912 408.8,922 412.5,932 422.5,937 417.5,947 400,947 397.5,929.5"/>
<polygon fill="#ffa000" points="97.5,897 108.8,897 108.8,912 112.5,919.5 106.2,929.5 103.8,947 97.5,947"/>
<polygon fill="#ffa000" points="143,794.5 149,794.5 149,796.5 143,796.5"/>
<polygon fill="#ffa000" points="123,788.8 127,788.8 127,790.5 123,790.5"/>
<polygon fill="#ffa000" points="257,860.8 262,860.8 262,867 257,867"/>
<polygon fill="#ffa000" points="255.5,871.2 263,871.2 263,874 255.5,874"/>
<polygon fill="#ffa000" points="272,879 276.5,879 276.5,883.5 272,883.5"/>
<polygon fill="#ffa000" points="281.5,892.2 283.5,892.2 283.5,894.5 281.5,894.5"/>
<polygon fill="#ffa000" points="154,912.2 157,912.2 157,914.2 154,914.2"/>
<polygon fill="#ffa000" points="135.2,920 137.2,920 137.2,923.5 135.2,923.5"/>
<polygon fill="#ffa000" points="182,931.2 186.5,931.2 186.5,934 182,934"/>
<polygon fill="#ffa000" points="195.2,907.2 197.2,907.2 197.2,909.2 195.2,909.2"/>
<polygon fill="#ffa000" points="277.8,912.2 280.8,912.2 280.8,913.8 277.8,913.8"/>
<polygon fill="#ffa000" points="250.2,844.8 252.2,844.8 252.2,846.8 250.2,846.8"/>
<polygon fill="#ffa000" points="218.8,941.5 231.2,941.5 231.2,947 218.8,947"/>
<polygon fill="#ffa000" points="268.8,941.5 278.8,941.5 278.8,947 268.8,947"/>
<polygon fill="#ffa000" points="291.2,941.5 301.2,941.5 301.2,947 291.2,947"/>
<polygon fill="#ffa000" points="413,934 417,934 417,940 413,940"/>
<polygon fill="#ffa000" points="113,926 117,926 117,928 113,928"/>
<polygon fill="#ffa000" points="419,934.2 421,934.2 421,936.8 419,936.8"/>
</g>
<g clip-path="url(#c9)">
<rect x="452" y="757" width="362" height="316" fill="#a00000"/>
<polygon fill="#870000" points="482,772 502,767 527,764.5 552,767 572,774.5 577,784.5 562,789.5 539.5,792 517,797 497,799.5 484.5,792 479.5,782"/>
<polygon fill="#870000" points="672,764.5 692,760.8 712,764.5 727,772 717,782 697,782 677,777"/>
<polygon fill="#870000" points="507,812 527,807 542,814.5 537,829.5 522,834.5 509.5,827"/>
<polygon fill="#d20000" points="449.5,807 459.5,807 467,817 482,814.5 499.5,812 509.5,814.5 522,832 534.5,834.5 552,827 562,817 569.5,819.5 579.5,829.5 592,832 604.5,822 612,817 627,822 642,819.5 652,829.5 659.5,834.5 669.5,817 682,814.5 692,819.5 707,814.5 717,827 727,829.5 739.5,824.5 752,817 764.5,807 777,802 792,794.5 802,799.5 817,792 817,947 449.5,947"/>
<polygon fill="#a00000" points="449.5,804.5 459.5,807 469.5,810.8 474.5,817 474.5,832 478.2,844.5 478.2,864.5 477,877 472,887 473.2,897 469.5,907 467,917 449.5,917"/>
<polygon fill="#ff0000" points="477,862 492,857 509.5,864.5 522,867 529.5,877 542,869.5 552,877 557,887 552,897 562,904.5 577,899.5 587,892 589.5,867 602,862 612,867 617,882 627,887 632,877 642,882 652,892 667,897 682,887 692,877 697,862 692,847 692,832 704.5,827 717,832 727,832 739.5,827 752,824.5 767,827 772,839.5 772,857 782,852 802,847 817,842 817,947 464.5,947 469.5,907 474.5,882"/>
<polygon fill="#d20000" points="707,887 727,882 747,887 759.5,897 762,917 747,919.5 727,912 712,904.5"/>
<polygon fill="#d20000" points="552,882 567,877 577,887 572,899.5 559.5,902"/>
<polygon fill="#d20000" points="632,897 652,899.5 664.5,907 652,912 637,907"/>
<polygon fill="#d20000" points="497,897 517,892 527,907 517,912 502,907"/>
<polygon fill="#d20000" points="777,872 797,867 812,874.5 807,887 787,887"/>
<polygon fill="#ff0000" points="475.8,818.2 489.5,813.2 502,817 502,832 492,842 480.8,844.5 477,832"/>
<polygon fill="#ff0000" points="537,842 544.5,839.5 547,847 539.5,852"/>
<polygon fill="#ffa000" points="714.5,844.5 727,839.5 739.5,837 752,832 764.5,828.2 767,839.5 762,849.5 767,857 752,862 747,854.5 732,854.5 722,849.5"/>
<polygon fill="#ffa000" points="693.2,834.5 702,832 703.2,852 698.2,857 693.2,847"/>
<polygon fill="#ffa000" points="592,867 602,865.8 608.2,868.2 608.2,882 604.5,887 598.2,884.5 597,874.5"/>
<polygon fill="#ffa000" points="600.8,902 612,899.5 615.8,904.5 608.2,908.2 602,907"/>
<polygon fill="#ffa000" points="619.5,912 627,909.5 633.2,917 632,924.5 624.5,927 619.5,922"/>
<polygon fill="#ffa000" points="555.8,919.5 562,915.8 572,917 574.5,922 567,927 562,932 557,929.5"/>
<polygon fill="#ffa000" points="579.5,920.8 587,920.8 588.2,925.8 582,928.2"/>
<polygon fill="#ffa000" points="492,932 497,927 503.2,929.5 505.8,937 500.8,947 493.2,947"/>
<polygon fill="#ffa000" points="510.8,873.2 514.5,873.2 514.5,880.8 510.8,880.8"/>
<polygon fill="#ffa000" points="511.5,884.5 514.5,884.5 514.5,888.2 511.5,888.2"/>
<polygon fill="#ffa000" points="614.5,932 627,932 637,927 644.5,932 652,939.5 654.5,947 614.5,947"/>
<polygon fill="#ffa000" points="650.8,914.5 662,914.5 662,918.2 650.8,918.2"/>
<polygon fill="#ffa000" points="687,919.5 697,917 704.5,922 699.5,927 689.5,925.8"/>
<polygon fill="#ffa000" points="702,932 712,927 722,924.5 734.5,929.5 747,932 762,934.5 774.5,939.5 777,947 697,947"/>
<polygon fill="#ffa000" points="754.5,879.5 762,877 765.8,884.5 758.2,885.8"/>
<polygon fill="#ffa000" points="807,889.5 817,887 817,899.5 809.5,897"/>
<polygon fill="#ffa000" points="664.5,934.5 672,934.5 672,940.8 664.5,940.8"/>
<polygon fill="#ffa000" points="708.2,877 712,877 712,880.8 708.2,880.8"/>
<polygon fill="#ffa000" points="549.5,932 552,932 552,935 549.5,935"/>
<polygon fill="#ffd200" points="702,938.2 714.5,934.5 727,935.8 732,947 699.5,947"/>
<polygon fill="#ffd200" points="627,935.8 637,933.2 642,939.5 632,942"/>
</g>
<g clip-path="url(#c10)">
<rect x="814" y="757" width="362" height="316" fill="#a00000"/>
<polygon fill="#870000" points="924,754.5 1179,754.5 1179,807 1159,817 1139,814.5 1114,807 1089,807 1069,817 1064,832 1054,832 1039,817 1026.5,812 1014,809.5 999,812 984,807 974,797 954,792 934,787 926.5,772"/>
<polygon fill="#6b0000" points="1089,754.5 1179,754.5 1179,767 1151.5,774.5 1126.5,772 1101.5,767"/>
<polygon fill="#d20000" points="811.5,782 829,787 844,797 851.5,807 864,809.5 876.5,804.5 889,802 904,809.5 919,814.5 929,824.5 939,829.5 954,827 969,824.5 984,822 999,827 1006.5,839.5 1014,832 1029,827 1039,832 1044,847 1054,857 1069,864.5 1084,862 1089,852 1096.5,839.5 1104,829.5 1114,834.5 1129,832 1139,837 1154,839.5 1164,832 1179,829.5 1179,947 811.5,947"/>
<polygon fill="#a00000" points="836.5,814.5 849,804.5 864,812 869,829.5 859,842 844,839.5 834,829.5"/>
<polygon fill="#a00000" points="1011.5,844.5 1026.5,832 1039,834.5 1049,849.5 1064,859.5 1054,864.5 1034,857 1019,857"/>
<polygon fill="#a00000" points="1086.5,864.5 1101.5,857 1119,862 1139,857 1154,862 1179,857 1179,917 1159,912 1139,917 1119,912 1101.5,907 1089,892"/>
<polygon fill="#a00000" points="1004,882 1019,877 1029,887 1019,897 1006.5,892"/>
<polygon fill="#ff0000" points="811.5,857 829,859.5 849,864.5 869,867 889,860.8 899,853.2 914,844.5 924,842 934,849.5 944,852 959,857 969,867 979,874.5 989,869.5 999,867 1004,877 999,887 989,892 979,897 974,907 964,917 954,922 939,927 929,932 924,947 811.5,947"/>
<polygon fill="#ff0000" points="986.5,947 994,932 1009,929.5 1024,927 1031.5,917 1039,909.5 1054,904.5 1069,907 1079,912 1084,922 1086.5,947"/>
<polygon fill="#ff0000" points="1094,917 1109,909.5 1124,917 1139,927 1149,937 1151.5,947 1089,947"/>
<polygon fill="#ff0000" points="1146.5,852 1159,847 1179,852 1179,862 1164,867 1151.5,864.5"/>
<polygon fill="#ff0000" points="1094,829.5 1104,829.5 1104,839.5 1094,839.5"/>
<polygon fill="#ff0000" points="1096.5,852 1109,852 1109,862 1096.5,862"/>
<polygon fill="#ff0000" points="1031.5,817 1044,817 1044,827 1031.5,827"/>
<polygon fill="#ff0000" points="889,789.5 899,789.5 899,794.5 889,794.5"/>
<polygon fill="#ffa000" points="867.8,867 879,865.8 889,874.5 899,879.5 909,877 914,859.5 924,842 930.2,837 931.5,852 939,857 941.5,867 949,877 961.5,884.5 961.5,897 966.5,904.5 961.5,910.8 954,907 944,912 934,914.5 924,914.5 914,907 904,902 911.5,892 901.5,887 889,895.8 876.5,894.5 867.8,887"/>
<polygon fill="#ffa000" points="811.5,884.5 821.5,885.8 827.8,892 822.8,899.5 814,904.5 811.5,904.5"/>
<polygon fill="#ffa000" points="847.8,897 854,890.8 860.2,897 859,904.5 854,910.8 849,904.5"/>
<polygon fill="#ffa000" points="829,947 839,929.5 849,918.2 854,922 855.2,932 861.5,937 874,934.5 881.5,927 889,919.5 886.5,929.5 879,947"/>
<polygon fill="#ffa000" points="894,923.2 902.8,923.2 902.8,929.5 894,929.5"/>
<polygon fill="#ffa000" points="977.8,880.8 981.5,880.8 981.5,887 977.8,887"/>
<polygon fill="#ffa000" points="1057.8,932 1064,922 1071.5,927 1079,937 1081.5,947 1061.5,947"/>
<polygon fill="#ffa000" points="1111.5,933.2 1121.5,928.2 1125.2,932 1117.8,939.5 1111.5,939.5"/>
<polygon fill="#ffa000" points="1109,913.2 1112.8,913.2 1112.8,919.5 1109,919.5"/>
<polygon fill="#ffd200" points="912.8,877 919,862 926.5,857 936.5,859.5 941.5,872 951.5,882 957.8,892 954,902 944,907 934,910.8 924,910.8 916.5,904.5 912.8,897 919,889.5"/>
<polygon fill="#ffff32" points="914,899.5 921.5,892 931.5,889.5 941.5,893.2 946.5,902 939,908.2 929,910.8 919,907"/>
<polygon fill="#ffff32" points="946.5,884.5 954,884.5 954,897 946.5,897"/>
<polygon fill="#ffff32" points="1064,932 1069,929.5 1072.8,935.8 1067.8,939.5"/>
<polygon fill="#ffff32" points="1112.8,935 1120.2,930.8 1122,933.2 1115.2,938.2"/>
</g>
<g clip-path="url(#c11)">
<rect x="1086" y="757" width="362" height="316" fill="#a00000"/>
<polygon fill="#870000" points="1083.5,754.5 1348.5,754.5 1348.5,829.5 1331,832 1311,824.5 1296,819.5 1276,812 1261,797 1251,787 1246,807 1241,827 1236,842 1226,857 1211,862 1196,857 1186,839.5 1186,819.5 1176,807 1161,807 1151,817 1136,812 1121,807 1106,799.5 1083.5,799.5"/>
<polygon fill="#6b0000" points="1111,764.5 1136,762 1161,767 1186,769.5 1211,764.5 1222.2,772 1221,784.5 1206,789.5 1186,784.5 1161,779.5 1136,777 1116,772"/>
<polygon fill="#d20000" points="1083.5,814.5 1096,817 1106,822 1118.5,834.5 1131,842 1143.5,849.5 1153.5,849.5 1161,839.5 1166,827 1173.5,817 1182.2,810.8 1196,814.5 1193.5,829.5 1184.8,842 1181,854.5 1171,864.5 1158.5,877 1151,887 1136,893.2 1123.5,892 1111,882 1098.5,882 1083.5,877"/>
<polygon fill="#d20000" points="1131,904.5 1146,907 1161,899.5 1171,907 1181,897 1191,902 1203.5,907 1211,917 1221,927 1236,912 1246,897 1261,892 1281,897 1298.5,897 1311,882 1321,862 1331,852 1348.5,837 1348.5,947 1128.5,947"/>
<polygon fill="#d20000" points="1283.5,829.5 1298.5,824.5 1311,832 1306,842 1291,844.5"/>
<polygon fill="#d20000" points="1083.5,897 1101,902 1113.5,912 1126,917 1128.5,947 1083.5,947"/>
<polygon fill="#a00000" points="1083.5,897 1096,900.8 1108.5,917 1106,932 1083.5,937"/>
<polygon fill="#ff0000" points="1091,857 1098.5,852 1108.5,857 1113.5,864.5 1106,869.5 1096,867"/>
<polygon fill="#ff0000" points="1161,839.5 1168.5,824.5 1176,815.8 1181,819.5 1178.5,832 1173.5,842 1166,849.5"/>
<polygon fill="#ff0000" points="1133.5,869.5 1141,867 1144.8,877 1138.5,880.8"/>
<polygon fill="#ff0000" points="1084.8,834.5 1096,834.5 1096,842 1084.8,842"/>
<polygon fill="#ff0000" points="1186,814.5 1196,814.5 1196,822 1186,822"/>
<polygon fill="#ff0000" points="1136,917 1146,914.5 1151,922 1143.5,929.5"/>
<polygon fill="#ff0000" points="1181,919.5 1188.5,919.5 1188.5,927 1181,927"/>
<polygon fill="#ff0000" points="1236,819.5 1243.5,819.5 1243.5,822 1236,822"/>
<polygon fill="#ff0000" points="1106,932 1116,924.5 1128.5,927 1126,939.5 1113.5,943.2"/>
<polygon fill="#ffa000" points="1109.8,914.5 1113.5,914.5 1113.5,919.5 1109.8,919.5"/>
<polygon fill="#ffa000" points="1111,932 1118.5,928.2 1124.8,930.8 1121,937 1113.5,939.5"/>
<polygon fill="#ffa000" points="1139.8,939 1156,939 1156,947 1139.8,947"/>
<polygon fill="#ffa000" points="1152.2,858.2 1154.8,858.2 1154.8,860 1152.2,860"/>
<polygon fill="#ffff32" points="1112.2,932 1118.5,929.5 1121,933.2 1116,937"/>
</g>
<polygon fill="#870000" points="905.3,319.1 926.1,317.4 934.8,327.9 936.6,348.7 929.6,359.2 933.1,374.8 943.6,376.6 957.5,394 967.9,404.4 966.2,425.3 954,432.3 947,444.5 957.5,460.1 954,470.6 936.6,481 926.1,491.5 901.8,493.2 889.6,477.5 893.1,456.7 900,442.7 887.9,432.3 886.1,411.4 900,404.4 901.8,383.6 908.7,376.6 910.5,359.2 894.8,345.3 891.3,336.6"/>
<polygon fill="#a00000" points="903.5,329.6 915.7,328.7 918.3,340 914,350.5 905.3,347"/>
<polygon fill="#a00000" points="903.5,381.8 912.2,378.3 924.4,379.2 929.6,387 941.8,390.5 945.3,397.5 954,397.5 962.7,407.9 964.4,421.8 957.5,428.8 947,421.8 941.8,428.8 933.1,432.3 929.6,421.8 933.1,411.4 926.1,407.9 919.2,411.4 912.2,407.9 905.3,397.5"/>
<polygon fill="#a00000" points="900,456.7 905.3,449.7 912.2,439.3 910.5,434 917.4,432.3 920.9,421.8 926.1,421.8 929.6,435.8 926.1,446.2 933.1,453.2 934.8,467.1 926.1,474.1 912.2,475.8 901.8,470.6"/>
<polygon fill="#d20000" points="905.3,383.6 914,379.2 924.4,380.9 926.1,390.5 920.9,397.5 912.2,397.5 906.1,392.3"/>
<polygon fill="#d20000" points="929.6,394 936.6,392.3 940.9,397.5 936.6,403.6 930.5,401.8"/>
<polygon fill="#d20000" points="905.3,334.8 910.5,331.3 912.2,341.8 908.7,347"/>
<polygon fill="#d20000" points="908.7,453.2 915.7,449.7 921.8,454.9 920.9,465.4 914,470.6 908.7,465.4"/>
<polygon fill="#d20000" points="911.3,436.6 915.7,435.8 916.6,441 912.2,441.9"/>
<polygon fill="#d20000" points="920.1,423.6 923.5,423.6 923.5,428.8 920.1,428.8"/>
<polygon fill="#ff0000" points="907.9,385.3 915.7,381.8 923.5,383.2 923.5,390.5 917.4,395.7 910.5,395.4"/>
<polygon fill="#ff0000" points="910.5,454.9 915.7,451.8 920.6,455.8 919.5,464.5 914.3,468.5 910.5,463.6"/>
<polygon fill="#ffa000" points="909.3,391.9 916.6,389.6 917.8,391.9 910.5,394.9"/>
<polygon fill="#ffa000" points="919.7,385.6 923,383.9 924.1,385.3 920.9,387.4"/>
<polygon fill="#ffa000" points="911.9,457.5 916,454 919.5,456.7 918.8,461.9 914.8,464 911.9,461.9"/>
<polygon fill="#d20000" points="1138.7,648.6 1144.9,641.1 1152.3,634.9 1162.3,632.4 1174.7,633 1184.7,638.6 1194.6,643.6 1204.6,647.3 1209.6,657.3 1218.3,664.7 1229.5,668.5 1241.9,670.9 1254.3,675.9 1264.3,680.9 1271.1,687.1 1271.7,697.1 1270.5,708.3 1260.5,713.2 1249.4,714.5 1238.2,715.7 1231.9,718.2 1219.5,721.9 1217,729.4 1212,734.4 1204.6,735.6 1199.6,736.9 1190.9,735.6 1182.2,729.4 1174.7,721.9 1174.7,709.5 1172.2,702 1164.8,695.8 1158.6,687.1 1156.1,677.2 1156.1,669.7 1149.9,663.5 1142.4,656"/>
<polygon fill="#ff0000" points="1140.5,649.2 1146.1,642.3 1153.6,636.7 1162.3,634.3 1173.5,634.9 1183.4,640.5 1193.4,645.4 1202.1,648.6 1205.8,657.3 1199.6,663.5 1199.6,674.7 1200.8,679.7 1219.5,679.7 1229.5,677.2 1241.9,677.2 1254.3,679.7 1263,684.6 1268,690.8 1266.8,702 1259.3,708.3 1249.4,710.7 1239.4,712 1229.5,713.2 1219.5,710.7 1215.8,709.5 1219.5,719.5 1214.5,725.7 1204.6,729.4 1202.1,734.4 1194.6,734.4 1185.9,729.4 1177.2,721.9 1177.2,712 1187.2,704.5 1177.2,702 1167.3,694.6 1161,685.9 1158.6,677.2 1157.3,668.5 1151.1,662.2 1143.6,656"/>
<polygon fill="#ffa000" points="1157.3,667.2 1162.3,662.2 1167.3,657.3 1164.8,652.3 1172.2,648.6 1178.5,643.6 1180.9,641.1 1184.7,643.6 1189.7,646.1 1194.6,648.6 1200.8,651 1199.6,662.2 1198.4,674.7 1199.6,680.9 1209.6,683.4 1219.5,680.3 1214.5,684.6 1207.1,690.8 1204.6,697.1 1194.6,702 1184.7,702 1177.2,702 1169.8,695.8 1163.5,689.6 1159.8,683.4 1159.8,674.7"/>
<polygon fill="#ff0000" points="1169.8,651 1179.7,643.6 1182.2,645.4 1172.2,652.9"/>
<polygon fill="#ff0000" points="1173.5,654.8 1187.2,646.1 1189.7,647.9 1176,656.6"/>
<polygon fill="#ff0000" points="1190.9,682.8 1197.1,682.1 1197.1,684 1190.9,684.6"/>
<polygon fill="#ffa000" points="1177.8,712 1187.2,707 1194.6,705.8 1212,705.8 1215.8,709.5 1214.5,715.7 1205.8,718.2 1204.6,723.2 1199.6,724.4 1198.4,731.9 1193.4,734.4 1187.2,733.1 1180.9,728.2 1176.6,723.2"/>
<polygon fill="#ff0000" points="1205.2,718.2 1213.9,718.2 1213.9,723.8 1205.2,723.8"/>
<polygon fill="#ffa000" points="1243.1,690.8 1251.8,686.5 1253.7,688.4 1244.4,693.3"/>
<polygon fill="#ffa000" points="1255.6,687.1 1257.4,687.1 1257.4,689 1255.6,689"/>
<polygon fill="#ffa000" points="1257.4,690.8 1259.3,690.8 1259.3,693.3 1257.4,693.3"/>
</g></g>
<g clip-path="url(#cm)">
<line class="g" x1="146.0" y1="135" x2="146.0" y2="942"/>
<line class="g" x1="302.56" y1="135" x2="302.56" y2="942"/>
<line class="g" x1="459.12" y1="135" x2="459.12" y2="942"/>
<line class="g" x1="615.6800000000001" y1="135" x2="615.6800000000001" y2="942"/>
<line class="g" x1="772.24" y1="135" x2="772.24" y2="942"/>
<line class="g" x1="928.8" y1="135" x2="928.8" y2="942"/>
<line class="g" x1="1085.3600000000001" y1="135" x2="1085.3600000000001" y2="942"/>
<line class="g" x1="1241.92" y1="135" x2="1241.92" y2="942"/>
<line class="g" x1="100" y1="238.9" x2="1346" y2="238.9"/>
<line class="g" x1="100" y1="343.27" x2="1346" y2="343.27"/>
<line class="g" x1="100" y1="447.64" x2="1346" y2="447.64"/>
<line class="g" x1="100" y1="552.01" x2="1346" y2="552.01"/>
<line class="g" x1="100" y1="656.38" x2="1346" y2="656.38"/>
<line class="g" x1="100" y1="760.75" x2="1346" y2="760.75"/>
<line class="g" x1="100" y1="865.12" x2="1346" y2="865.12"/>
<g clip-path="url(#c0)">
<polyline class="b" points="121.2,135 136.2,265 143.8,316.2 146.2,342.5 157,442.5"/>
<polyline class="b" points="288.8,135 402.5,208.8 452,240.5"/>
</g>
<g clip-path="url(#c1)">
<polyline class="b" points="449.5,240.5 519.5,285 520.8,300 519.5,303.8 527,305 539.5,310.5 545.8,316.2 546.5,322.5 557,330 562,330.5 568.2,331.2 573.2,328.8 579.5,333.8 585.8,340 594.5,342.5 614.5,345 627,351.2 627.5,365 629.5,373.8 624.5,382.5 622,387.5 627,392.5 633.2,396.2 679.5,388 762,372 817,325"/>
<polyline class="b" points="680,388 680,442.5"/>
</g>
<g clip-path="url(#c2)">
<polyline class="b" points="811.5,327.5 849,297.5 864,290 1084,160 1071.5,135"/>
<polyline class="b" points="1084,160 1161.5,177 1179,186.2"/>
</g>
<g clip-path="url(#c3)">
<polyline class="b" points="1083.5,160 1163.5,177.5 1169.8,181.2 1201,206.2 1292.2,163.2 1348.5,190"/>
<polyline class="b" points="1241,186.2 1249.8,232.5 1251.5,265 1257.2,268.8 1273.5,293.8 1270.5,296.2 1271,302.5 1292.2,325 1283.5,340 1279.8,350 1272.2,442.5"/>
</g>
<g clip-path="url(#c4)">
<polyline class="b" points="157,438.5 166.2,524.8 180,534.8 172.5,578 97.5,578"/>
<polyline class="b" points="455,601 440,601 436.2,603.5 435,599.8 422.5,599.8 412.5,606 402.5,613.5 390,618.5 380,623.5 370,629.8 355,632.2 353.8,643.5 348.8,648.5 340,644.8 330,641 320,647.2 310,654.8 307.5,673.5 300,676 290,672.2 288.8,691 280,698.5 273.8,697.2 262.5,691 252.5,687.2 253.8,683.5 250,684.8 240,693.5 232.5,701 237.5,711 238.8,721 226.2,723.5 228.8,733.5 226.2,743.5 220,751 216.2,758.5"/>
</g>
<g clip-path="url(#c5)">
<polyline class="b" points="680.2,438.5 680.2,499.8 678.2,501 677.8,531 673.2,533.5 669.5,539.8 666.5,548.5 666.5,552.2 663.2,556 662,564.8 657,569 652,569.8 647,573.5 643.2,578 642.5,585.2 617,581.8 616.2,586 527,589.2 509.5,604.8 492,605.5"/>
<polyline class="b" points="449.5,602.2 469.5,607.2 484.5,604.8 492,606"/>
<polyline class="b" points="469.5,607.2 470.8,613.5 467,626 474.5,636 479.5,643.5 478.2,653.5 487,666 490.8,671 502,674.8 510.8,679.8 513.2,684.8 524.5,689.2 519.5,691 510.8,689.8 510,706 519.5,711 534.5,719.8 547,727.2 557,728.5 562,723.5 569.5,723.5 574.5,728.5 575.8,738.5 567,741 572,751 575.8,758.5"/>
<polyline class="b" points="582,758.5 583.2,747.2 599.5,743.5 604.5,739.8"/>
<polyline class="b" points="648.2,758.5 649.5,732.2 662,723.5 670.8,713.5 673.2,701 674.5,684.8 682,678.5 692,672.2 702,669.8 712,668.5 720.8,669.8 735.8,668.5 739.5,663.5 747,662.2 757,664.8 769.5,669.8 782,673.5 792,676 802,684.8 809.5,693.5 817,702.2"/>
</g>
<g clip-path="url(#c6)">
<polyline class="b" points="811.5,702.2 819,708 826.5,708 834,702.2 844,702.2 854,696 866.5,690.2 879,692.2 889,697.2 897.8,704 902.8,703.5 910.2,709.8 919,714.8 931.5,716.8 944,718 949,717.2 961.5,718 969,711 976.5,703.5 979,698.5 989,694.8 1004,691 1019,688.5 1036.5,689.2 1054,689.2 1069,693.5 1081.5,698.5 1089,702.2"/>
<polyline class="b" points="1179,617.2 1172.8,621 1171.5,627.2 1162.8,629.8 1160.2,634.8 1164,653.5 1167.5,669.5 1191.2,704.2"/>
</g>
<g clip-path="url(#c7)">
<polyline class="b" points="1272.2,438.5 1266.5,504.8 1241,531 1208.5,564.8 1191,588.5 1179.8,604.8 1176.5,613.5 1177.2,618.5 1172.2,621 1172.2,627.2 1163.5,630.5 1160.5,634.8 1163.5,653.5 1168.5,671 1156,671"/>
<polyline class="b" points="1168.5,671 1193.5,704 1212.2,704 1216,709.8"/>
<polyline class="b" points="1193.5,704 1197.2,721 1199.8,738.5"/>
<polyline class="b" points="1224.8,751 1222.2,758.5"/>
</g>
<g clip-path="url(#c8)">
<polyline class="b" points="215,754.5 207.5,759.5 192.5,762 182.5,767 177.5,770 183.8,772 186.2,782 185.5,794.5 182.5,805.8 172.5,808.2 176.2,819.5 173.8,829.5 170,840.8 157.5,842 150,847 147.5,853.2 137.5,854.5 135,849.5"/>
<polyline class="b" points="97.5,846.5 110,844.5 112.5,832 122.5,834.5 130,829.5 135,828.2 133.8,837"/>
<polyline class="b" points="235,882 236.2,878.2 245,874.5 255,869.5 267.5,867.8 280,869 287.5,872.5 291.2,870.8 293.8,874.5 297.5,878.2 302.5,879.5 307.5,887 313.8,895.8 317.5,893.2"/>
<polyline class="b" points="312.5,813.2 377.5,812 380,810.8 410,812.5 415,814 422.5,813.2 426.2,816.5 437.5,808.2 440,803.2 455,804.5"/>
<polyline class="b" points="322.5,927 327,947"/>
</g>
<g clip-path="url(#c9)">
<polyline class="b" points="449.5,807 459.5,808.2 485.8,812 484.5,815.8 505.8,813.2"/>
<polyline class="b" points="459.5,808.2 454.5,827 455.8,832 469.5,842 477,843.2 478.2,849.5"/>
<polyline class="b" points="577,754.5 584.5,765.8 579.5,777 569.5,787 562,790.8 559.5,789.5"/>
<polyline class="b" points="505.8,813.2 499.5,829.5 499,844.5 514.5,855.8 528.2,863.2 529.5,887 532,893.2 543.2,909.5 544,947"/>
<polyline class="b" points="649.5,754.5 647,764.5 650.8,772 644.5,779.5 639.5,790.8 647,799.5 653.2,805.8 655.8,817 659.5,829.5 658.2,839.5 649.5,843.2 645.8,852 650.8,857 644.5,864.5 643.2,872 634.5,875.8 632,883.2 627,887 622,895.8 620.8,909.5 615.8,913.2 604.5,914 602,927 602,947"/>
<polyline class="b" points="475.8,893.2 482,891.5 487,895.8 485.8,904.5 482,912 484.5,923.2 479.5,929.5 483.2,937 489.5,947"/>
</g>
<g clip-path="url(#c10)">
<polyline class="b" points="1179,814.5 1169,827 1164,839.5 1161.5,852 1157.8,858.2 1151.5,859.5 1149,869.5 1150.2,879.5 1147.8,888.2 1136.5,892 1131.5,898.2 1130.2,912 1127.8,922 1124,929.5 1114,937 1105.2,937 1107,947"/>
</g>
<g clip-path="url(#c11)">
<polyline class="b" points="1223,754.5 1221,772 1223,782 1218.5,788.2 1208.5,793.2 1197.2,799.5 1189.8,798.2 1182.2,805.8 1177.2,812 1169.8,824.5 1164.8,834.5 1161,854.5 1153.5,859.5 1149.8,864.5 1151,874.5 1147.2,887 1137.2,893.2 1132.2,899.5 1128.5,917 1126,929.5 1121,932 1113.5,936.5 1104.8,937.5 1106.5,947"/>
<polyline class="b" points="1187.2,882 1198.5,866.2 1211,865.8 1228.5,868.2 1243.5,867 1261,868.2 1276,865.8"/>
<polyline class="b" points="1187.2,882 1196,893.2 1206,905.8 1218.5,917 1231,927 1241,933.2 1246,937 1251,947"/>
</g>
<g>
<g clip-path="url(#c0)">
</g>
<g clip-path="url(#c1)">
</g>
<g clip-path="url(#c2)">
</g>
<g clip-path="url(#c3)">
</g>
<g clip-path="url(#c4)">
<polyline class="r" points="455,524.8 452.5,523.6 450,522.2 449.1,518.9 446.6,516.5 445,513.5 443.9,510.6 441.9,508.1 441.3,505.1 440.1,502.2 436.3,501 432.4,501.3 428.8,502 425.1,502.6 422.7,500.8 420.1,500.2 417.4,500.1 413.7,499.2 410,500.1 407.2,498.7 404.3,497.3 401.1,496.2 398.6,497.8 395.4,497.6 392.6,498.8 389.2,499.3 385.9,499.3 382.5,499.4 379.2,499.6 375.9,500.1 372.5,500.2 370,501.3 367.4,501.9 365,503.1 362.4,503.6 360,504.8 357.7,506.1 354.7,505.7 352.2,506.6 349.9,508.2 346.8,508.7 343.8,510.1 340.7,510.9 337.5,511.2 334.5,512.5 331.1,511.7 328.2,513.1 324.9,513.2 321.9,514.3 318.6,513.9 315.5,514.7 312.6,516.4 309.2,517 305.7,516 302.5,517.3 299.6,517.6 297.5,519.8 298.4,523.5 297.4,527.2 294.7,528.5 292.8,531 290.2,532.5 289,534.9 287.2,537.1 284.7,538.9 283,542 280.1,543.7 276.8,544.7 273.4,545.2 270,544.5 267.7,546.2 265,546.3 262.5,547.3 260.3,549.1 257.3,549.3 255.3,551.7 252.4,552.1 250.3,554.2 247.6,554.9 245.3,556.5 242.6,557.4 240.4,560 239.8,563.4 238.2,565.5 235.4,566.2 233.9,568.7 234,571.6 233.5,574.8 234.7,577.4 237,579.4 237.1,582.4 240.3,583 242.7,584.3 244.9,586.2 247.6,586.5 250.1,587.3 252.6,588.2 253.3,592.2 252.4,596 254.8,598.2 256.2,601 255.7,603.6 254.7,606 253.4,608.4 251.3,610.2 248.7,611.7 246.1,613.3 245.6,616.3 244.4,618.8 242.2,620.9 241.1,624.2 241.3,627.8 240.2,631.1 238.7,633.3 237.5,635.7 237.7,638.6 239.4,641.6 242.3,643.7 241.5,645.9 241,648.5 240.3,651.1 238.9,654.1 236,655.8 233.5,657.3 230.3,657.3 227.6,658.7 225.7,660.7 224.8,663.4 223.9,666.1 223.1,669.2 220.8,671.7 220.3,674.9 217.8,677.3 214.9,678.8 212.3,680.8 209.9,682.9 207.8,685.5 204.8,687 201.8,688.7 198.6,689.9 195,689.9 192.5,690.8 190.3,692.4 187.7,693.2 185,693.6 181.8,694 178.9,695.5 175.7,695.6 172.4,695.7 169,695.5 165.8,696.5 162.5,697.1 159.5,697.3 156.6,698.5 153.6,698.9 150.6,699.2 147.5,698.2 144.8,699.4 142.1,700.2 140.4,703.1 137.4,703.3 135,704.8 132.6,706.1 131.1,708.4 128.5,709.4 130.2,713.4 130,717.3 127.5,718.4 125.2,719.7 123.2,721.6 121.2,723.4 119.1,725.7 117.2,728 116.3,731.1 113.4,730.9 110.5,730.8 107.7,731.2 105,732.3 101.2,732 97.5,732.7"/>
<polyline class="r" points="292.5,528.5 291.5,531.4 290.6,534.3 290.1,537.3 288,539.3 286.1,541.5 285,544.4 282.4,545.9 279.5,546.8 277.1,548.7 274.9,550.8 273.1,553.6 270.5,555.7 268.7,558.5 267.6,561.1 265.6,563.2 265.3,566.1 262.1,568.1 260.3,571.3 258.2,573 256.7,575.2 255.2,577.4 257.2,580 260,582.2 258.7,586 255.3,586.5 252.6,588.7"/>
<polyline class="r" points="237.5,591 236.6,594 234.5,596.2 232.4,598.4 230.9,601.4 228.8,603.9 226,605.8 223.6,607.4 221.3,609.4 218.6,610.7 217.8,613.7 216,615.9 215.2,618.6 215.1,622.2 214.8,626 213,628.1 211.8,630.7 211.5,633.6 209.9,636 208.7,638.7 207.5,641.4 205.3,643.5 203.5,645.9 200.8,646.1 198.1,647.1 195.3,647.4 192.9,649.4 190.1,650 188.8,652.3 187.9,655 186.5,657.4 183.5,657.7 180.7,657.5 178,658 175.3,658.6 172.5,658.2 169.5,659.2 167.6,661.7 165.5,663.9 162.7,665.1 159.6,666 158.1,669.2 154.7,670 152.5,672.2 149.5,672.2 146.7,670.8 143.7,671.4 143.2,673.8 141.3,676 140.3,678.7 137.1,680.1 135.3,683.1 132.7,685 130.3,686.5 127.4,686.4 125,687.7 122.5,688.4 119.2,687.8 115.9,687.1 112.5,686.9 109.4,687.4 106.6,688.8 103.5,688.8 100.6,689.9 97.6,690.1"/>
<polyline class="r" points="203.8,646 206.5,645.2 209.5,644.9 212,643.1 215,642.8 218.3,642 221.7,642.1 225,641 227.6,639.1 230.3,637.2 232.4,634.7 235.8,634 238.9,632.6"/>
<polyline class="r" points="116.2,731 118,733.2 117.3,736.3 118.6,738.7 120.3,740.9 121.7,743.4 123.1,746.1 124.7,748.7 126.2,750.9 126.7,753.5 127.1,756.3 128.5,758.6"/>
<polyline class="r" points="350,656 349.5,659.4 350.9,662.7 351.1,666 351.2,669.2 349.6,672.2 348.8,675.3 348.6,678.5 349.1,681.1 350.8,683.3 350.2,686.2 350.8,688.8 352.1,691.1 351.4,693.5 350,695.8 349.8,698.6 347.7,700.7 347.2,703.4 350.1,704 352.8,704.4 355,706 358.3,705.7 361.7,705.7 365,704.7 367.8,704.6 369.8,706.8 372.8,706.2 374.8,708.3 377.6,708.2 380.7,708.5 383.7,709.7 386.9,708.7 390,709.5 392.5,711.9 394.7,714.3 397.3,716.2 398.1,718.6 398.5,721.3 400.3,723.5 400.9,726.1 402.3,728.9 402.3,732 401.9,735 402.7,738 402.3,741 402.9,744 403.7,746.8 403.7,749.9 404.9,752.7 406,755.5 406.3,758.5"/>
<polyline class="r" points="256.2,758.5 258.1,756.3 259.5,753.9 259.5,750.7 261.9,748.8 263.3,746.4 263.8,743.5 265.1,741 266.5,738.7 268.8,737.3 270.6,735.4 272.6,733.6 272.6,730.7 275.3,728.8 275.3,726 276.2,723.5 279.5,723.5 282.5,722.3 285,723.5 287.3,725.1 290.2,725.7 289.9,729.1 290.1,732.2 292,734.5 294.6,736 297.7,736.4 300,738.2 302.7,739.5 305.4,740 308.2,741.2 311.2,741.3 310.9,744.3 310.8,747.7 310.2,751 311,753.6 311.7,756.4 314,758.4"/>
</g>
<g clip-path="url(#c5)">
<polyline class="r" points="449.5,521 450.3,523.7 452.9,525.6 453.8,528.2 454.7,530.9 455.4,533.7 457.3,535.8 458.5,538.4 459.4,541 462,543 462.9,546.3 465.7,548 467,551 469.3,552.9 471.2,555 472.6,557.6 474.5,559.7 476.8,561.1 479,562.7 481,564.5 483.4,565.8 484.7,568.8 484.7,571.9 485.6,574.8 488.6,576.5 491.2,578.7 494.5,579.8 495.8,582.7 498.4,584.6 497,587.5 496,590.4 495.4,593.4 495.3,596.1 494.4,598.6 492.9,600.9 495,603.2 495.4,606.2 498,607.6 501,607 503.3,608.3 504.1,611.2 506.2,613.3 507.7,615.6 508,618.6 510.2,620.6 511.6,623.3 514.4,624.6 515.8,627.2 517.3,629.7 520.2,631 521.8,633.4 523.1,636.1 525,638.2 527.1,639.9 530.3,640.1 532,642.3 533.3,644.7 535.3,646.4 536.9,648.6 538.2,651.2 539.1,653.9 539.6,656.8 539.9,659.7 541.5,662.3 543.6,664.8 545.7,667.3 548.3,668.8 550.4,671 552.2,673.3 554.3,675.1 556.7,676.3 559.2,677.1 562.1,676.9 565,678.2 566.5,681.3 569.5,682.2 571.2,684.7 573.9,686.2 575.8,688.5 577.8,690.6 580,692.6 581.9,694.8 583.1,697.4 582,700.1 581.8,702.8 583.4,705.4 583,708.1 582.6,710.9 583.3,713.5 585.4,715.7 587.1,718.1 588.2,721 589.8,724.6 589.2,728.6 590.9,731.4 593.1,733.6 597.1,733.6 600.8,732.4 602.2,734.7 603.2,737.3 605.4,738.8 607.1,741.2 609.5,742.4 612.1,743.3 613.3,746 615.4,747.6 617.2,749.5 619.3,751.2 621.5,752.7 622.7,755.3 624.6,757.2 626.9,758.6"/>
<polyline class="r" points="817,757.2 814.8,754.9 812.3,753.1 809.4,751.8 807.1,749.6 804,748.9 801.8,746.9 799.5,745.1 796.8,743.8 794.8,742 793.2,739.8 791.2,738.1 788.6,736.9 787.2,734.5 785.2,732.8 782.8,731.5 781.2,729.3 779.1,727.6 777,726 773.6,725.4 770.6,723.4 767,723.4 765.3,721 763.4,718.7 761.7,716.1 758.3,715.1 757.1,712.2 755.3,710.1 752.7,709.1 750.9,707.1 748.4,705.9 746.8,703.7 743.7,703.9 740.4,704.6 737,704.2 734.1,703.2 731.2,703.9 728.2,704 725,704.2 722.4,706 719.4,706.9 716.7,706.5 714,705.8 710.9,706.8 708.3,705.4 705.8,707.8 704.8,711.4 701.7,713.3 700.4,715.8 698,717 696.4,719.2 694,720.5 691.9,722.2 690,724.8 686.5,725.3 684.6,728 682,729.7 679.4,730.8 677.1,732.5 674.7,733.9 671.9,734.6 669.7,737.8 667.6,741.1 667.3,743.8 668.3,746.6 669,749.4 668.5,752.2 670,755.1 670.3,758.4"/>
</g>
<g clip-path="url(#c6)">
<polyline class="r" points="926.5,758.5 929.2,758 931.4,756.3 934.3,756.2 936.7,755 938.9,753.2 941.8,753.6 944.3,752.7 946.2,750.2 949.3,750.9 951.5,749.2 954,748.5 956.8,748.6 958.8,746.3 961.5,746 964.3,746 966.6,744.8 969,743.5 971.9,743.3 974.2,742 976.6,740.6 978.7,738.6 981.6,738.5 984,737.2 986.2,735.5 988.6,733.9 991.5,733.6 993.7,731.6 996.5,731 999.1,730.3 1001.5,728.9 1003.8,727.6 1006.6,727.2 1009,725.9 1011.8,724.8 1014,722.7 1016.7,721.3 1019.3,720.9 1021.7,719.6 1023.8,717.7 1026.4,717 1029.7,717.6 1032.8,716.9 1035.9,716.2 1039,715.4 1042.4,715.6 1045.6,717 1049,717.3 1052.1,717.1 1055.3,716.9 1058.4,716.8 1061.5,715.8 1064.5,715.2 1067.6,716.5 1070.6,716.1 1073.6,715.8 1076.5,714.4 1078,712 1080.3,710.3 1082.7,708.5 1086,707.5 1088.9,705.7 1091.5,704.8 1093.6,702.7 1096.4,702 1099.6,702.9 1102.7,703 1105.8,703.4 1109,703.4 1110.6,701 1111.9,698.2 1113.9,695.9 1116.8,694.7 1119.4,693.2 1121.3,690.7 1123.2,688.5 1126.3,687.7 1128.2,685.6 1130.4,683.7 1132.9,682.3 1135.8,682.1 1138.6,681.2 1141.6,681.2 1143.9,679.2 1146.7,678.1 1149.5,677.1 1151.4,674.6 1154,674 1156.7,673.6 1159.1,672.6 1161.5,672.9 1164.1,673.7 1166.6,674.4 1168.6,677.1 1172,677.6 1174.5,679.3 1176.4,681.9 1179,683.5"/>
<polyline class="r" points="992.8,758.5 994.6,756.2 995.5,753.3 997.9,751.3 998.7,748.3 999.7,745.7 1001.8,743.6 1002,740.6 1003.6,738.3 1005.4,736.1 1007.6,733.7 1009.1,730.7 1011.3,728.3 1013.4,725.8 1016,723.8 1017.7,720.9"/>
</g>
<g clip-path="url(#c7)">
<polyline class="r" points="1083.5,708 1085.7,706.3 1088.6,706.2 1091.1,704.9 1093.9,704.2 1096.2,702.6 1099.6,703.7 1103.5,703.5 1107.2,704.1 1111,703.3 1111.9,700.8 1113.3,698.4 1115.1,696.2 1117.3,694.9 1118.6,692.3 1120.9,690.9 1123,688.9 1125.2,687 1127.4,685.2 1129.7,683.4 1132.5,681.9 1135.6,681.6 1138.6,680.7 1141.4,680.3 1144.4,680.7 1147.3,679.8 1149.3,676.8 1152.4,674.9 1155.7,674.2 1158.4,672.1 1162.5,672.2 1166,674 1168.4,675.8 1170.9,677.6 1173,680 1175.9,681.1 1178.1,683.4 1181.5,684.1 1183.4,686.7 1185.9,688.7 1188.9,689.4 1191.4,690.9 1193.2,693.6 1195.8,695 1199.2,695.2 1201.7,697.5 1204.9,698.2"/>
<polyline class="r" points="1216,711 1216.1,714.2 1217.1,717.3 1219.7,718.5 1221.8,720.1 1223.4,722.4 1226.6,724.2 1229.6,726.2 1231.6,728.8 1233.4,731.7 1234.4,734.9 1234.8,737.5 1235.6,740.2 1235.9,742.9 1236,745.7 1236.4,748.4 1236.9,751.1 1239.3,752.7 1240.8,754.9 1243.4,756.3 1245.7,757.9 1248.4,758.7"/>
<polyline class="r" points="1199.8,737.2 1200.7,741.1 1203.9,742.3 1206.8,742.9 1210,742.8 1213,743 1216,743.7 1217.6,746.4 1220.3,748.4 1222.3,751 1225.4,751.2 1228,753.1 1230.9,753.9 1233.6,754.5 1236.3,755.4 1238.8,756.7 1241,758.4"/>
</g>
<g clip-path="url(#c8)">
<polyline class="r" points="127.5,754.5 126.9,757.2 124.6,759.2 125.3,762.3 123.9,764.6 122.8,767.1 121.2,769.4 120,771.8 120.1,774.7 119.3,777.3 117.5,779.5 117.8,782.5 117.7,785.6 119.9,788.3 120.3,791.4 120.2,794.5 121.8,796.7 123,799.3 123.4,802.2 124.8,804.6 126.7,806.8 127.7,809.4 129.1,811.8 130.6,814.2 130.8,817.2 132.6,819.4 132.8,822.8 132.7,826.2 133.8,829.5 135,832.7 134.7,836.4 135.9,839.6 136.3,842.7 135.5,845.7 134.4,848.8 135,852 134.8,854.7 134.4,857.3 131.9,859.2 131.4,861.8 131.3,864.5 130.6,867.6 130,870.7 129.8,874 128.4,876.9 128,879.9 128.4,882.9 127.9,885.8 123.8,886.4 120,887.1 117.2,887.7 114.8,889.1 112.5,890.7 108.6,890.8 105,889.8 102.7,891.3 100.2,892.9 97.3,893.7"/>
<polyline class="r" points="255,754.5 254,757 252.7,759.4 251.1,761.6 251.4,764.7 250,767 249.1,769.9 246.5,771.7 246.4,775 243.4,776.7 242.3,779.4 239.6,781.1 238,784.3 235.1,785.9 231.6,786.2 228.5,788.2 225,788.3 222.5,790.2 219.8,791.7 217.6,790.6 215.1,789.2 212.7,791.5 209.7,792.4 207.5,794.6 204.6,795 202.9,797.7 199.7,797.7 197.6,799.7 194.9,801.5 192.5,803.6 190.2,806 185,805.5"/>
<polyline class="r" points="175,829.5 174.1,832.2 172.8,834.7 171.6,837.2 172.3,840.7 172.5,844.5 174.7,846.7 177.6,848.2 181.3,848.2 185,847.2 187.6,848.4 190,849.6 192.4,851.1 193.1,853.9 194.7,856.7 196.6,859.3 198.3,861.9 199.9,864.6 201.1,867.5 201.2,870.8 204.4,872.6 207.7,874.2 209,876.9 211.3,878.3 213.9,879.3 217.1,879.6 220.4,878.7 223.7,878.9 225.9,880.8 228.4,882.1 230.5,883.8 232.6,885.7 234.3,888.1 237,889.6 238.9,891.8 239.1,895.4 240.7,898.6 240.9,902.1 244.1,903.4 246.9,904.9 250.1,905.6 252.2,907.6 255.4,907.5 257.6,909.2 259.5,911.6 259.7,914.7 261.1,917.1 259.9,919.9 257.6,922 258.8,925.5 261.2,928.3 259.2,930.8 256.4,932.2 256.4,935.1 256,938.1 254.9,941 255.1,944.1 253.4,946.9"/>
<polyline class="r" points="141.2,893.2 141.9,890.3 142.9,887.4 143.9,884.5 146.9,883.7 149.8,882.6 152.5,880.7 155.2,878.8 158.2,877.3 161.1,875.4 164.1,876.2 166.8,877.4 169.5,878.6 172.4,878.5 174.9,879.8 177.4,880.9 180.2,881.7 181.3,884.4 182.3,886.9 182.9,889.5 182.9,893.4 181.3,897 180,899.5 178.2,901.7 176.9,904.2 176.2,907 176.1,910.5 174.1,913.5 173.4,916.9 174.1,920.3 174.9,923.6 175,927 174.4,929.8 172.1,931.8 170.9,934.3 170.2,937 168.9,939.3 167.6,941.8 167.8,944.7 165.9,946.9"/>
<polyline class="r" points="307.5,754.5 308.2,757.1 309.9,759.3 311.1,761.7 311.4,764.4 310.3,767 309.2,769.4 308.9,772 310.7,774.6 313.8,775.7 313.3,778.5 313.5,781.4 311.3,783.8 312.5,786.9 310.9,789.4 310.7,792.8 310.3,796.2 310,799.5 311.3,801.9 310.9,804.8 312.1,807.1 311.5,810.3 311.5,813.6 311.5,817 309.7,819.3 309.8,822.1 307.7,824.2 307.7,827.1 307.4,830.8 307.2,834.5 309.6,836.3 310.5,838.9 312.9,840.6 314.1,843 314,846.3 312,848.9 312.2,852 313.5,854.6 315.3,856.8 316.1,859.6 315.5,862.6 315.9,865.8 315.1,868.9 314.8,872 316.3,875 316.2,878.2 316,881.4 316.5,884.5 317.4,886.9 318,889.5 319.7,891.8 320,894.5 320.1,897.9 319,901.1 318.9,904.5 317.2,907.3 317.1,910.7 314.9,913.2 317.2,914.9 317.6,918 319.9,919.6 321.7,922 323.5,924.4 324.9,927.1 326.8,929.7 328.8,932.3 331.1,934.6 332.8,937 333.4,940 335.2,942.3 336.6,944.9 338.8,947"/>
<polyline class="r" points="407.5,754.5 409.5,756.9 411.1,759.6 412.5,762.5 415,764.5 416.5,767 418.2,769.4 419,772.4 421.4,774.4 421.3,777.3 419.2,779.4 418.4,781.9 421.5,783.7 424.5,784.7 427.4,785.9 429.9,788 431.5,790.9 434,793 435.3,795.5 435.5,798.2 436.2,800.8 438.3,803.8 440.3,806.8 439.6,810.1 439.9,813.2 440.5,816.4 440.2,819.5 440.5,822.3 441.2,825.1 441.8,827.8 440.9,830.8 438,831.1 435.3,832.9 432.4,834.2 429.6,835.5 426.5,835.6 423.8,837.2 422.3,834.2 420,832 417.1,833 415.4,836 412.4,836.8 408.9,838.4 405,838.2 403.7,841 405.2,844.2 404,847 405.4,850 406.4,853.2 405.8,856.7 403.5,859.4 404.4,862.3 406.4,864.4 407.6,866.9 407.6,870.1 409,873.2 409.4,876.3 408.4,879.5 405.9,880.3 402.9,880.3 400,880.4 396.7,881.1 394.2,883.3 391.3,884.7 389.4,886.7 386.8,888 386.8,891.3 388.8,894 388.5,897.1 390.7,899.3 392.1,902 394,904.4 394.8,907.4 396.3,910 398.9,911.9 398.9,915.4 400.2,918.6 399.7,922 402.8,923.9 404.8,926.5 406.1,929.6 408.2,931.8 408.9,934.9 411,937.2 412.5,939.7 415,941.6 415.6,944.7 417.2,947.2"/>
<polyline class="r" points="360,947 360.7,943.6 360.8,940.1 362.3,936.9 365.7,935.8 369.3,935.7 372.4,934.3 374.6,932.3 377.2,930.7 380.1,929.6 383.8,930.1 387.5,929.4 389.9,930.7 392.2,932.1 394.9,932.5 397.6,933 400.4,932.4 403.5,933.3 406.3,932.1"/>
</g>
<g clip-path="url(#c9)">
<polyline class="r" points="627,754.5 628.6,756.8 629.2,759.6 631.5,761.6 631.7,764.7 634.6,766.3 637,768.3 639.5,770.2 642.2,771.7 643.7,774 646.1,775.4 648,777.3 649.3,779.7 652.3,779.7 654.7,781 656.8,782.8 659.6,783.1 662.2,784.1 664.5,785.8 667.3,786.4 669.1,789 671.8,789.8 674.6,791.1 675.8,793.8 677.2,796.4 679.6,798.2 681.5,800.6 684.5,801.6 687.1,803 690.3,804.2 693.6,805.2 697,805.6 698.6,808.1 700.3,810.5 702.6,812.3 704.5,814.5 704.2,817.9 705,821.2 705.7,824.5 703.7,826.6 703.8,829.8 701.8,831.9 700.4,834.9 697.7,836.9 695.9,839.6 695.2,843.3 694.3,847 694.9,849.7 695.8,852.2 697.8,854.3 698.3,857 699.4,860 699.3,863.3 700.1,866.4 701.1,869.4 701,872.9 701.2,876.2 701.9,879.5 700.4,881.7 700.7,884.7 699.8,887.2 698.6,889.6 699.2,892.3 700.2,895.1 701.2,897.9 702.2,900.7 703.6,903.6 706.8,905.2 708,908.5 711.1,908.1 713.9,907.7 716.8,907.9 719.5,906.8 722.4,908.3 724.7,910.4 727.5,911.9 729.6,914.4 731.9,915.7 734.5,916.5 737.2,917.1 739.4,918.7 742.1,919.2 744.3,921.1 747.2,920.9 749.7,922 752.3,922.9 754.4,924.6 756.6,926.7 759.2,928.3 762.2,929.2 765.1,929.3 768.2,929.2 771.4,928.9 774.5,929.9 777.7,928.9 780.8,930.1 783.8,931 787,931.1 789.5,931.9 791.2,934 793.1,935.9 794.8,938.4 795,941.3 794.4,944.4 796,946.9"/>
<polyline class="r" points="670.8,754.5 671.7,756.9 672.6,759.4 673,762 674.4,764.3 675.2,766.7 674.1,769.8 675.5,772.1 676.6,775 678.7,777.4 680,780.2 680.7,783.3 679.1,786.1 676.6,788.3 674.2,790.5"/>
<polyline class="r" points="817,801.5 814.6,803.1 812.2,804.5 809,804.7 806.9,806.7 804.7,808.6 801.5,808.9 798.5,809 795.6,810.6 792.6,810.6 789.5,810.6 787.1,812.1 785.6,814.4 783.3,815.8 782,818.3 781.3,821.1 779.5,823.7 779.4,826.8 778,829.4 778.3,832.6 777.6,835.6 777.4,838.6 776.2,841.5 776,844.5 775.9,847.5 775.5,850.4 774.6,853.3 774.5,856.2 773.8,859.1 772.9,861.9 771.7,864.3 770.1,866.7 770,869.8 768.3,872 769.4,875 768.5,878.3 769.5,881.3 769.7,884.5 769.7,887.7 768.6,890.7 767.7,893.6 766.7,896.6 765.4,899.4 764.9,902.4 765.4,905.4 764.8,908.3 764.8,911.3 762.8,914 763.4,917 764,919.7 765.6,922.1 763.2,924.7 762.3,928.4"/>
<polyline class="r" points="559.5,789.5 556.4,789.9 553.2,789.7 550.1,790.3 547,789.2 543.9,789.7 540.8,788.7 537.6,789.1 534.5,789.4 532.8,791.1 531.1,793.4 529.5,795.6 527.2,797.2 524.4,798.4 522.5,800.9 519.7,802 517,803.3 515.3,805.7 514.3,808.7 511.9,810.7 510.1,813 507.3,814.2 505.2,816.1 503.4,818.5 502.5,821.3 501.2,824.1 499.1,826.5 498.3,829.5 496.2,831.5 493.4,832.7 492,835.5 489.6,837.1 488.9,839.6 488.2,842.2 487.5,844.8 486.1,847.1 482.2,848.6 479,850.7 478.2,853.5 477.8,856.2 479,859 478.1,861.7 477.9,864.5 478.5,867.7 477.2,870.7 477,873.8 476.6,877 475.1,879.2 475,882.2 473,884.4 472.3,887.1 473.4,889.4 474.6,892 474,894.9 472.2,897.1 471.1,899.7 469.5,902 470.8,905.2 471.8,908.5 472.1,912 471.6,915.3 471.8,918.7 470.6,922 470.5,925.1 470,928.2 468.8,931.1 467.9,934 467.3,937.1 466.1,939.5 465.1,941.9 464.6,944.5 463.8,947"/>
<polyline class="r" points="559.5,790.8 559.1,793.7 557.2,795.8 556,798.4 555.3,801.1 553.3,803.3 552.8,806.1 550.8,808.3 549.3,810.7 548.3,813.3 547,815.9 545.5,818.5 544.4,821.3 542.1,823.3 539.7,825 538.6,827.7 537.2,830.1"/>
<polyline class="r" points="592,858.8 589.8,861.4 588.5,864.6 587.6,867 586.5,869.4 585.1,871.7 585.5,874.6 584.4,877 582.9,879.8 582.5,882.9 582,885.9 581.3,888.9 580.8,892 580.3,895.2 579.9,898.3 578.2,901.2 578,904.4 578.1,907.9 576.6,911.1 577.4,914.5 576.9,917.2 575.3,919.5 574.6,922 574.8,924.8 573.5,927.6 575.2,930.3 575.1,933.1 575,935.9 574.1,938.7 575,941.4 575.5,944.2 574.5,947"/>
<polyline class="r" points="642,928.2 644,930 646.1,931.6 647.6,933.9 649.4,935.8 650.9,938.1 652.3,940.4 653.9,942.6 654.9,945.1 656.7,947.2"/>
</g>
<g clip-path="url(#c10)">
<polyline class="r" points="811.5,762 813.7,763.8 815.7,765.8 817,768.5 819.8,769.7 821.4,772.1 823.1,774.2 825,776 826.5,778.3 828.8,779.7 831.7,779.7 833.9,781.4 836.5,782"/>
<polyline class="r" points="850.2,783.2 853.2,783 856,782.2 859,781.8 862.5,781.6 865.7,780.4 868.9,779.3 872.7,778.7 876.5,778.9 877.9,776.3 880.3,774.5 882.5,772.8 884.9,771.7 887.6,771.2 889.9,769.4 893,769 894.9,766.5 897.7,765.7 900.7,767.5 904,768.2 906.9,769.8 908.5,773 911.3,774.7 914.2,772.8 917.2,772.4 920.3,772 922.6,769.9 923.9,766.9 924.4,763.2 923.8,759.5 926.2,757.3 927.6,754.4"/>
<polyline class="r" points="811.5,797 814.5,794.8 817.9,793.4 819.3,790.3 819.8,787.1"/>
<polyline class="r" points="992.8,754.5 991.4,756.9 990.4,759.6 988.6,761.8 987.5,764.4 986.3,766.9 984.5,768.9 984.1,771.9 982.2,773.9 980.2,775.8 979.2,778.4 979.4,781.1 979.5,783.8 978.1,786.5 977.1,789.2 977.4,792 976.4,794.4 973.7,795.5 972.2,797.7 970.2,799.4 968.3,802.1 965.4,803.9 963.7,806.7 963.9,809.8 961.7,811.9 961.9,814.8 960.6,817.1 960,820.8 958.8,824.5 956.9,826.6 957.2,829.8 955.6,832.2 954.8,834.9 952.7,837 950.7,838.7 948.7,840.5 946.6,842.1 942.8,841.4 939,841.7 938.1,844.7 936.7,847.1 935,849.4 933.8,851.9 931.6,854 931.1,857.1 929,859.3 927.7,862 924.4,863.8"/>
<polyline class="r" points="935.2,878.2 938.2,876.7 941.4,876.2 946.5,876.7 949,875.3 950.1,872.4 953,872.1 955.7,871 958.5,871.1 961.1,870.1 964,870.8 966.8,869.2 970.1,869.3 972.9,867.8 975.9,866.8 979,866.5 980.7,864 982.4,861.5 983.9,858.8 986.2,856.8 988.5,854.9 988.9,851.9 991.1,849.7 993.7,848.3 996.5,847.3 999.2,846.1 1001.3,842.8 1004.7,841 1004.7,837.4 1004.8,834.1 1005.5,830.8 1006.6,828.1 1007.6,825.3 1010,823.3 1011.6,820.8 1014.2,818.9 1016.2,816.2 1019.2,814.8 1021.8,813.9 1024.4,812.9 1026.4,810.6 1029.1,809.7 1032.4,809.5 1035.6,808 1039,807.9 1042.3,807.2 1045.6,806.7 1049,806.7 1051.6,807.7 1053.8,809.5 1056.6,809.9 1058,812.3 1060.3,814.1 1061.2,816.9 1059.9,820.1 1061.6,823.3 1060.4,826.4 1060,829.5 1059.1,832.5 1058.5,835.7 1058.6,838.9 1057.5,842 1057.7,845.3 1058.8,848.3 1061,850.7 1064.4,850.9 1066.3,853.5 1070.2,853.1 1074,853.4 1075.1,856.3 1074.9,859.6 1078.5,859.9 1081,862.1 1084.1,863 1084.6,866 1085.1,868.7 1084.9,871.5 1085,874.3 1086.1,877 1086.6,879.6 1087.9,882 1087.9,885.4 1086.4,888.6 1087.1,892"/>
<polyline class="r" points="989,947 989.5,944.1 991.2,941.9 993.2,939.7 993.5,936.7 995.4,934.6 998.1,934.3 1000.9,934.2 1003.6,932.9 1006.5,932.9 1009.5,931.9 1012.7,931.7 1015.8,931.2 1018.9,930.4 1021.5,929.5 1023.9,928.1 1026.4,926.9 1027.6,924.5 1029.3,922.3 1029,919.3 1031.2,917.3 1031.4,914.4 1034.3,912.8 1036,909.7 1039.2,908.5 1041.4,906.9 1044.4,906.6 1046.2,904 1048.9,903.1 1051.6,902.1 1053.7,899.9 1056.3,898.6 1059.2,897.8 1062,896.8 1063.9,894.4 1066.3,893 1068.9,892.4 1071.8,892.6 1073.9,890.5 1077.1,891.3 1080.3,891.1 1083.3,892 1086.5,891.8 1089.9,891.4 1093.4,891.1 1096.6,889.8 1098.8,891.8 1101.5,893.7 1104,895.8 1106.7,897.4 1107.9,900.6 1110.3,902.6 1112.8,904.5 1115.2,903.5 1117.3,901.9 1119.5,900.5 1121.7,899 1124.3,898.4 1126.5,897.1 1129.4,898.3 1132.7,898.6 1135.2,900.8 1137.5,902.2 1139.5,904 1141.7,905.6 1143.8,907.3 1147.2,905.5 1150.7,905.3 1154.1,904.9 1156.7,903.7 1158.8,901.7 1161.7,901.2 1164.2,899.9 1166,901.2 1167.2,903.8 1170.2,904.6 1171.2,907.3 1173,909.2 1174.9,911.2 1175.4,914.1 1177.3,916.2 1178.7,918.4"/>
</g>
<g clip-path="url(#c11)">
<polyline class="r" points="1233.5,754.5 1235.7,756.3 1238.2,757.5 1241,758.3 1244.8,759.2 1248.5,757.9 1250.6,760.5 1253.3,761.9 1256.1,763.1 1256.2,766.3 1257.8,769.1 1258.5,772 1257.4,775.2 1258.3,778.7 1257.4,782 1257.9,784.6 1259.9,786.7 1260,789.5 1260.8,792.1 1261.6,795.1 1262.8,798.1 1262.3,801.5 1263.2,804.6 1264.7,807.7 1266.7,810.4 1268.2,813.4 1270.7,815.3 1273.9,815.8 1276.1,817.7 1278.7,819.2 1281.4,819.9 1283.6,821.7 1285.9,823.5 1289.3,824.3 1292.8,823.3 1296,824.2 1298.6,825.2 1300.8,827 1303.4,827.5 1305.9,828.6 1309,829.4 1310.4,832.8 1313.9,833.4 1315.9,835.8 1318.3,837.3 1320.9,837.9 1323.7,837.7 1325.9,839.5 1328.5,839.9 1330.6,838.1 1333.4,837.7 1335.9,836.9 1339.2,836.6 1342.2,835.3 1345.4,835.3 1348.5,834.7"/>
<polyline class="r" points="1243.5,759.5 1245,762.7 1245.9,766 1245.8,769.5 1246.7,772.6 1248,775.6 1248.6,778.7 1248.2,782.1 1247.3,784.4 1246.8,787.1 1246.1,789.7 1243.6,791.6 1243.4,794.4 1243,797.5 1243.8,800.5 1243.9,803.5 1243.7,806.5 1243.8,809.5 1243.9,812.7 1244.9,815.7 1244.7,819 1246.1,822 1246.8,825 1247.5,828 1247.4,831.2 1249.3,833.9 1249.6,837 1251.9,838.7 1253.1,841.1 1255.3,842.7 1256.2,845.5 1258.6,846.9 1260,849.5 1262.3,851.2 1264.6,852.9 1265.9,855.6 1268.6,856.9 1270.2,859.1 1272.4,860.7 1274.6,862.2 1277.1,863.3 1278.5,865.7 1280.9,867.5 1282.8,869.8 1284.5,872.3 1286.2,877 1288.3,878.9 1290.8,880.4 1293.8,881.3 1296,883.2 1298.9,884.2 1300.6,887 1303.8,887.5 1306,889.4 1307.5,892.2 1307.9,895.4 1309.1,898.2 1310.9,900.8 1312.4,903.3 1314.7,905.3 1314.8,908.7 1317.7,910.3 1318.6,913.2 1320.4,915.2 1321.7,917.7 1323.5,919.7 1325.6,921.4 1323.3,923.8 1321.7,926.4 1321.3,929.7 1318.4,930.5 1316,932.1 1313.6,933.5 1311,934.5 1307.8,935.7 1304.3,935.8 1301,936.9 1298.3,938.3 1296.3,940.3 1294.3,942.3 1293.1,945.1 1290.8,946.8"/>
<polyline class="r" points="1083.5,867 1084,870.4 1084.8,873.8 1085.6,877.1 1087.3,880.2 1086.9,883.7 1087.3,887 1085.9,892 1089.2,890.6 1092.9,891.3 1095.9,889.3 1098.6,890.5 1101.3,891.4 1103.5,893.2 1104.9,895.8 1107.7,897.2 1109.3,899.6 1110.3,902.4 1112.2,904.6 1115.4,903.3 1117.8,900.7 1121.1,899.7 1124.3,898.7 1127.3,897.2 1130.5,897.6 1133.1,899.4 1136.2,900.4 1137.8,902.8 1139.9,904.4 1142.1,905.7 1145,906.2 1147.6,906 1150.6,906.1 1153.5,905.8 1155.6,903.5 1158.8,903.1 1160.8,900.7 1163.5,899.5 1165.8,901.6 1166.7,904.6 1168.7,906.8 1170.7,908.8 1171.5,911.5 1173.3,913.5 1174,916.3 1176.2,918.1 1178.6,919.3 1181.4,920 1183.6,921.8 1185.4,924 1187.1,926.2 1189,928.2 1187.7,931 1188.6,934.2 1187,936.9 1187.1,940.5 1184.7,943.4 1184.7,947"/>
</g>
</g>
</g>
<rect x="100.05" y="135.1" width="1246.05" height="807.6" fill="none" stroke="#000" stroke-width="1.9"/>
<g shape-rendering="crispEdges">
<rect x="25.10" y="1116.05" width="56.30" height="69.75" fill="#000080"/>
<rect x="80.90" y="1116.05" width="56.30" height="69.75" fill="#0000c8"/>
<rect x="136.69" y="1116.05" width="56.30" height="69.75" fill="#1464d2"/>
<rect x="192.49" y="1116.05" width="56.30" height="69.75" fill="#2882f0"/>
<rect x="248.28" y="1116.05" width="56.30" height="69.75" fill="#50a5f5"/>
<rect x="304.08" y="1116.05" width="56.30" height="69.75" fill="#78b9fa"/>
<rect x="359.88" y="1116.05" width="56.30" height="69.75" fill="#96d2fa"/>
<rect x="415.67" y="1116.05" width="56.30" height="69.75" fill="#b4f0fa"/>
<rect x="471.47" y="1116.05" width="56.30" height="69.75" fill="#bef9b4"/>
<rect x="527.26" y="1116.05" width="56.30" height="69.75" fill="#00cd7d"/>
<rect x="583.06" y="1116.05" width="56.30" height="69.75" fill="#00aa00"/>
<rect x="638.86" y="1116.05" width="56.30" height="69.75" fill="#7dcd00"/>
<rect x="694.65" y="1116.05" width="56.30" height="69.75" fill="#cde600"/>
<rect x="750.45" y="1116.05" width="56.30" height="69.75" fill="#ffff32"/>
<rect x="806.24" y="1116.05" width="56.30" height="69.75" fill="#ffd200"/>
<rect x="862.04" y="1116.05" width="56.30" height="69.75" fill="#ffa000"/>
<rect x="917.84" y="1116.05" width="56.30" height="69.75" fill="#ff0000"/>
<rect x="973.63" y="1116.05" width="56.30" height="69.75" fill="#d20000"/>
<rect x="1029.43" y="1116.05" width="56.30" height="69.75" fill="#a00000"/>
<rect x="1085.22" y="1116.05" width="56.30" height="69.75" fill="#870000"/>
<rect x="1141.02" y="1116.05" width="56.30" height="69.75" fill="#6b0000"/>
<rect x="1196.82" y="1116.05" width="56.30" height="69.75" fill="#ff82ff"/>
<rect x="1252.61" y="1116.05" width="56.30" height="69.75" fill="#ff00ff"/>
<rect x="1308.41" y="1116.05" width="56.30" height="69.75" fill="#9a009a"/>
<rect x="1364.20" y="1116.05" width="56.30" height="69.75" fill="#8469ff"/>
</g>
<rect x="25.1" y="1116.05" width="1394.9" height="69.75" fill="none" stroke="#000" stroke-width="1.9"/>
<line x1="25.10" y1="1185.8" x2="25.10" y2="1192.7" stroke="#000" stroke-width="1.9"/>
<line x1="80.90" y1="1185.8" x2="80.90" y2="1192.7" stroke="#000" stroke-width="1.9"/>
<line x1="136.69" y1="1185.8" x2="136.69" y2="1192.7" stroke="#000" stroke-width="1.9"/>
<line x1="192.49" y1="1185.8" x2="192.49" y2="1192.7" stroke="#000" stroke-width="1.9"/>
<line x1="248.28" y1="1185.8" x2="248.28" y2="1192.7" stroke="#000" stroke-width="1.9"/>
<line x1="304.08" y1="1185.8" x2="304.08" y2="1192.7" stroke="#000" stroke-width="1.9"/>
<line x1="359.88" y1="1185.8" x2="359.88" y2="1192.7" stroke="#000" stroke-width="1.9"/>
<line x1="415.67" y1="1185.8" x2="415.67" y2="1192.7" stroke="#000" stroke-width="1.9"/>
<line x1="471.47" y1="1185.8" x2="471.47" y2="1192.7" stroke="#000" stroke-width="1.9"/>
<line x1="527.26" y1="1185.8" x2="527.26" y2="1192.7" stroke="#000" stroke-width="1.9"/>
<line x1="583.06" y1="1185.8" x2="583.06" y2="1192.7" stroke="#000" stroke-width="1.9"/>
<line x1="638.86" y1="1185.8" x2="638.86" y2="1192.7" stroke="#000" stroke-width="1.9"/>
<line x1="694.65" y1="1185.8" x2="694.65" y2="1192.7" stroke="#000" stroke-width="1.9"/>
<line x1="750.45" y1="1185.8" x2="750.45" y2="1192.7" stroke="#000" stroke-width="1.9"/>
<line x1="806.24" y1="1185.8" x2="806.24" y2="1192.7" stroke="#000" stroke-width="1.9"/>
<line x1="862.04" y1="1185.8" x2="862.04" y2="1192.7" stroke="#000" stroke-width="1.9"/>
<line x1="917.84" y1="1185.8" x2="917.84" y2="1192.7" stroke="#000" stroke-width="1.9"/>
<line x1="973.63" y1="1185.8" x2="973.63" y2="1192.7" stroke="#000" stroke-width="1.9"/>
<line x1="1029.43" y1="1185.8" x2="1029.43" y2="1192.7" stroke="#000" stroke-width="1.9"/>
<line x1="1085.22" y1="1185.8" x2="1085.22" y2="1192.7" stroke="#000" stroke-width="1.9"/>
<line x1="1141.02" y1="1185.8" x2="1141.02" y2="1192.7" stroke="#000" stroke-width="1.9"/>
<line x1="1196.82" y1="1185.8" x2="1196.82" y2="1192.7" stroke="#000" stroke-width="1.9"/>
<line x1="1252.61" y1="1185.8" x2="1252.61" y2="1192.7" stroke="#000" stroke-width="1.9"/>
<line x1="1308.41" y1="1185.8" x2="1308.41" y2="1192.7" stroke="#000" stroke-width="1.9"/>
<line x1="1364.20" y1="1185.8" x2="1364.20" y2="1192.7" stroke="#000" stroke-width="1.9"/>
<line x1="1420.00" y1="1185.8" x2="1420.00" y2="1192.7" stroke="#000" stroke-width="1.9"/>
<g style="filter:grayscale(1)">
<text x="699.9" y="37.6" font-size="31.2" text-anchor="middle" font-weight="bold" textLength="114" lengthAdjust="spacingAndGlyphs">SLAPIS</text>
<text x="111.8" y="122.8" font-size="22.4" text-anchor="start" font-weight="normal" textLength="69.5" lengthAdjust="spacingAndGlyphs">VALID:</text>
<text x="187.2" y="122.8" font-size="22.4" text-anchor="start" font-weight="normal" textLength="48" lengthAdjust="spacingAndGlyphs">TUE,</text>
<text x="241.5" y="122.8" font-size="22.4" text-anchor="start" font-weight="normal" textLength="25.5" lengthAdjust="spacingAndGlyphs">07</text>
<text x="274.2" y="122.8" font-size="22.4" text-anchor="start" font-weight="normal" textLength="44.5" lengthAdjust="spacingAndGlyphs">OCT</text>
<text x="325.2" y="122.8" font-size="22.4" text-anchor="start" font-weight="normal" textLength="51.5" lengthAdjust="spacingAndGlyphs">2025</text>
<text x="385.2" y="122.8" font-size="22.4" text-anchor="start" font-weight="normal" textLength="24.5" lengthAdjust="spacingAndGlyphs">16</text>
<text x="417.2" y="122.8" font-size="22.4" text-anchor="start" font-weight="normal" textLength="42" lengthAdjust="spacingAndGlyphs">UTC</text>
<text x="582.3" y="122.8" font-size="22.4" text-anchor="start" font-weight="normal" textLength="30.5" lengthAdjust="spacingAndGlyphs">T=</text>
<text x="621.2" y="122.8" font-size="22.4" text-anchor="start" font-weight="normal" textLength="65" lengthAdjust="spacingAndGlyphs">+16hr</text>
<text x="693.8" y="122.8" font-size="22.4" text-anchor="start" font-weight="normal" textLength="169" lengthAdjust="spacingAndGlyphs">WRF-GFS-4.0km</text>
<text x="1162.3" y="122.8" font-size="22.4" text-anchor="start" font-weight="normal" textLength="40.5" lengthAdjust="spacingAndGlyphs">Init:</text>
<text x="1209.6" y="122.8" font-size="22.4" text-anchor="start" font-weight="normal" textLength="42.5" lengthAdjust="spacingAndGlyphs">Tue,</text>
<text x="1258.8" y="122.8" font-size="22.4" text-anchor="start" font-weight="normal" textLength="27" lengthAdjust="spacingAndGlyphs">00</text>
<text x="1292" y="122.8" font-size="22.4" text-anchor="start" font-weight="normal" textLength="42" lengthAdjust="spacingAndGlyphs">UTC</text>
<text x="87.8" y="245.0" font-size="22.4" text-anchor="end" font-weight="normal" textLength="50.5" lengthAdjust="spacingAndGlyphs">22°N</text>
<text x="87.8" y="349.37" font-size="22.4" text-anchor="end" font-weight="normal" textLength="50.5" lengthAdjust="spacingAndGlyphs">20°N</text>
<text x="87.8" y="453.74" font-size="22.4" text-anchor="end" font-weight="normal" textLength="50.5" lengthAdjust="spacingAndGlyphs">18°N</text>
<text x="87.8" y="558.11" font-size="22.4" text-anchor="end" font-weight="normal" textLength="50.5" lengthAdjust="spacingAndGlyphs">16°N</text>
<text x="87.8" y="662.48" font-size="22.4" text-anchor="end" font-weight="normal" textLength="50.5" lengthAdjust="spacingAndGlyphs">14°N</text>
<text x="87.8" y="766.85" font-size="22.4" text-anchor="end" font-weight="normal" textLength="50.5" lengthAdjust="spacingAndGlyphs">12°N</text>
<text x="87.8" y="871.22" font-size="22.4" text-anchor="end" font-weight="normal" textLength="50.5" lengthAdjust="spacingAndGlyphs">10°N</text>
<text x="147.0" y="969.9" font-size="22.4" text-anchor="middle" font-weight="normal" textLength="43.5" lengthAdjust="spacingAndGlyphs">6°W</text>
<text x="303.56" y="969.9" font-size="22.4" text-anchor="middle" font-weight="normal" textLength="43.5" lengthAdjust="spacingAndGlyphs">3°W</text>
<text x="460.12" y="969.9" font-size="22.4" text-anchor="middle" font-weight="normal" textLength="22" lengthAdjust="spacingAndGlyphs">0°</text>
<text x="616.6800000000001" y="969.9" font-size="22.4" text-anchor="middle" font-weight="normal" textLength="35" lengthAdjust="spacingAndGlyphs">3°E</text>
<text x="773.24" y="969.9" font-size="22.4" text-anchor="middle" font-weight="normal" textLength="35" lengthAdjust="spacingAndGlyphs">6°E</text>
<text x="929.8" y="969.9" font-size="22.4" text-anchor="middle" font-weight="normal" textLength="35" lengthAdjust="spacingAndGlyphs">9°E</text>
<text x="1086.3600000000001" y="969.9" font-size="22.4" text-anchor="middle" font-weight="normal" textLength="48" lengthAdjust="spacingAndGlyphs">12°E</text>
<text x="1242.92" y="969.9" font-size="22.4" text-anchor="middle" font-weight="normal" textLength="48" lengthAdjust="spacingAndGlyphs">15°E</text>
<text x="25.10" y="1217.0" font-size="22.4" text-anchor="middle" font-weight="normal" textLength="20" lengthAdjust="spacingAndGlyphs">-4</text>
<text x="80.90" y="1217.0" font-size="22.4" text-anchor="middle" font-weight="normal" textLength="20" lengthAdjust="spacingAndGlyphs">-2</text>
<text x="136.69" y="1217.0" font-size="22.4" text-anchor="middle" font-weight="normal" textLength="13" lengthAdjust="spacingAndGlyphs">0</text>
<text x="192.49" y="1217.0" font-size="22.4" text-anchor="middle" font-weight="normal" textLength="13" lengthAdjust="spacingAndGlyphs">2</text>
<text x="248.28" y="1217.0" font-size="22.4" text-anchor="middle" font-weight="normal" textLength="13" lengthAdjust="spacingAndGlyphs">4</text>
<text x="304.08" y="1217.0" font-size="22.4" text-anchor="middle" font-weight="normal" textLength="13" lengthAdjust="spacingAndGlyphs">6</text>
<text x="359.88" y="1217.0" font-size="22.4" text-anchor="middle" font-weight="normal" textLength="13" lengthAdjust="spacingAndGlyphs">8</text>
<text x="415.67" y="1217.0" font-size="22.4" text-anchor="middle" font-weight="normal" textLength="26" lengthAdjust="spacingAndGlyphs">10</text>
<text x="471.47" y="1217.0" font-size="22.4" text-anchor="middle" font-weight="normal" textLength="26" lengthAdjust="spacingAndGlyphs">12</text>
<text x="527.26" y="1217.0" font-size="22.4" text-anchor="middle" font-weight="normal" textLength="26" lengthAdjust="spacingAndGlyphs">14</text>
<text x="583.06" y="1217.0" font-size="22.4" text-anchor="middle" font-weight="normal" textLength="26" lengthAdjust="spacingAndGlyphs">16</text>
<text x="638.86" y="1217.0" font-size="22.4" text-anchor="middle" font-weight="normal" textLength="26" lengthAdjust="spacingAndGlyphs">18</text>
<text x="694.65" y="1217.0" font-size="22.4" text-anchor="middle" font-weight="normal" textLength="26" lengthAdjust="spacingAndGlyphs">20</text>
<text x="750.45" y="1217.0" font-size="22.4" text-anchor="middle" font-weight="normal" textLength="26" lengthAdjust="spacingAndGlyphs">22</text>
<text x="806.24" y="1217.0" font-size="22.4" text-anchor="middle" font-weight="normal" textLength="26" lengthAdjust="spacingAndGlyphs">24</text>
<text x="862.04" y="1217.0" font-size="22.4" text-anchor="middle" font-weight="normal" textLength="26" lengthAdjust="spacingAndGlyphs">26</text>
<text x="917.84" y="1217.0" font-size="22.4" text-anchor="middle" font-weight="normal" textLength="26" lengthAdjust="spacingAndGlyphs">28</text>
<text x="973.63" y="1217.0" font-size="22.4" text-anchor="middle" font-weight="normal" textLength="26" lengthAdjust="spacingAndGlyphs">30</text>
<text x="1029.43" y="1217.0" font-size="22.4" text-anchor="middle" font-weight="normal" textLength="26" lengthAdjust="spacingAndGlyphs">32</text>
<text x="1085.22" y="1217.0" font-size="22.4" text-anchor="middle" font-weight="normal" textLength="26" lengthAdjust="spacingAndGlyphs">34</text>
<text x="1141.02" y="1217.0" font-size="22.4" text-anchor="middle" font-weight="normal" textLength="26" lengthAdjust="spacingAndGlyphs">36</text>
<text x="1196.82" y="1217.0" font-size="22.4" text-anchor="middle" font-weight="normal" textLength="26" lengthAdjust="spacingAndGlyphs">38</text>
<text x="1252.61" y="1217.0" font-size="22.4" text-anchor="middle" font-weight="normal" textLength="26" lengthAdjust="spacingAndGlyphs">40</text>
<text x="1308.41" y="1217.0" font-size="22.4" text-anchor="middle" font-weight="normal" textLength="26" lengthAdjust="spacingAndGlyphs">42</text>
<text x="1364.20" y="1217.0" font-size="22.4" text-anchor="middle" font-weight="normal" textLength="26" lengthAdjust="spacingAndGlyphs">44</text>
<text x="1420.00" y="1217.0" font-size="22.4" text-anchor="middle" font-weight="normal" textLength="26" lengthAdjust="spacingAndGlyphs">46</text>
<text x="722.7" y="1245.2" font-size="22.4" text-anchor="middle" font-weight="normal" textLength="94" lengthAdjust="spacingAndGlyphs">T2m (°C)</text>
</g>
</svg></body></html>
